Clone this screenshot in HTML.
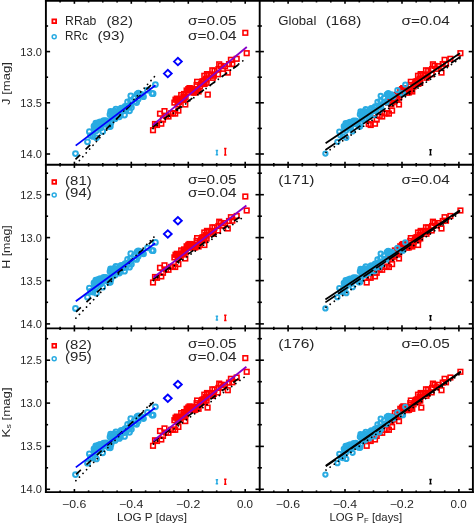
<!DOCTYPE html>
<html><head><meta charset="utf-8"><title>PL relations</title><style>html,body{margin:0;padding:0;background:#fff}</style></head><body>
<svg width="474" height="524" viewBox="0 0 474 524" style="display:block;font-family:'Liberation Sans',sans-serif">
<rect width="474" height="524" fill="#fff"/>
<g>
<rect x="150.7" y="127.9" width="4.6" height="4.6" fill="none" stroke="#ff0000" stroke-width="1.6"/>
<rect x="152.7" y="121.7" width="4.6" height="4.6" fill="none" stroke="#ff0000" stroke-width="1.6"/>
<rect x="154.7" y="122.7" width="4.6" height="4.6" fill="none" stroke="#ff0000" stroke-width="1.6"/>
<rect x="157.7" y="111.4" width="4.6" height="4.6" fill="none" stroke="#ff0000" stroke-width="1.6"/>
<rect x="159.0" y="121.4" width="4.6" height="4.6" fill="none" stroke="#ff0000" stroke-width="1.6"/>
<rect x="162.2" y="108.8" width="4.6" height="4.6" fill="none" stroke="#ff0000" stroke-width="1.6"/>
<rect x="160.7" y="117.3" width="4.6" height="4.6" fill="none" stroke="#ff0000" stroke-width="1.6"/>
<rect x="163.7" y="113.7" width="4.6" height="4.6" fill="none" stroke="#ff0000" stroke-width="1.6"/>
<rect x="166.2" y="114.2" width="4.6" height="4.6" fill="none" stroke="#ff0000" stroke-width="1.6"/>
<rect x="172.9" y="111.3" width="4.6" height="4.6" fill="none" stroke="#ff0000" stroke-width="1.6"/>
<rect x="176.1" y="108.3" width="4.6" height="4.6" fill="none" stroke="#ff0000" stroke-width="1.6"/>
<rect x="183.0" y="102.2" width="4.6" height="4.6" fill="none" stroke="#ff0000" stroke-width="1.6"/>
<rect x="168.7" y="111.0" width="4.6" height="4.6" fill="none" stroke="#ff0000" stroke-width="1.6"/>
<rect x="170.7" y="110.9" width="4.6" height="4.6" fill="none" stroke="#ff0000" stroke-width="1.6"/>
<rect x="210.0" y="68.0" width="4.6" height="4.6" fill="none" stroke="#ff0000" stroke-width="1.6"/>
<rect x="215.7" y="72.0" width="4.6" height="4.6" fill="none" stroke="#ff0000" stroke-width="1.6"/>
<rect x="218.5" y="63.6" width="4.6" height="4.6" fill="none" stroke="#ff0000" stroke-width="1.6"/>
<rect x="220.5" y="66.5" width="4.6" height="4.6" fill="none" stroke="#ff0000" stroke-width="1.6"/>
<rect x="222.7" y="63.9" width="4.6" height="4.6" fill="none" stroke="#ff0000" stroke-width="1.6"/>
<rect x="225.5" y="70.3" width="4.6" height="4.6" fill="none" stroke="#ff0000" stroke-width="1.6"/>
<rect x="226.7" y="61.8" width="4.6" height="4.6" fill="none" stroke="#ff0000" stroke-width="1.6"/>
<rect x="228.6" y="57.5" width="4.6" height="4.6" fill="none" stroke="#ff0000" stroke-width="1.6"/>
<rect x="230.0" y="61.7" width="4.6" height="4.6" fill="none" stroke="#ff0000" stroke-width="1.6"/>
<rect x="234.4" y="56.5" width="4.6" height="4.6" fill="none" stroke="#ff0000" stroke-width="1.6"/>
<rect x="244.4" y="50.9" width="4.6" height="4.6" fill="none" stroke="#ff0000" stroke-width="1.6"/>
<rect x="211.5" y="73.4" width="4.6" height="4.6" fill="none" stroke="#ff0000" stroke-width="1.6"/>
<rect x="187.2" y="85.8" width="4.6" height="4.6" fill="none" stroke="#ff0000" stroke-width="1.6"/>
<rect x="209.4" y="72.2" width="4.6" height="4.6" fill="none" stroke="#ff0000" stroke-width="1.6"/>
<rect x="181.3" y="95.6" width="4.6" height="4.6" fill="none" stroke="#ff0000" stroke-width="1.6"/>
<rect x="195.4" y="87.4" width="4.6" height="4.6" fill="none" stroke="#ff0000" stroke-width="1.6"/>
<rect x="175.4" y="102.1" width="4.6" height="4.6" fill="none" stroke="#ff0000" stroke-width="1.6"/>
<rect x="210.5" y="75.5" width="4.6" height="4.6" fill="none" stroke="#ff0000" stroke-width="1.6"/>
<rect x="187.2" y="87.9" width="4.6" height="4.6" fill="none" stroke="#ff0000" stroke-width="1.6"/>
<rect x="204.0" y="77.1" width="4.6" height="4.6" fill="none" stroke="#ff0000" stroke-width="1.6"/>
<rect x="191.4" y="90.4" width="4.6" height="4.6" fill="none" stroke="#ff0000" stroke-width="1.6"/>
<rect x="186.0" y="86.8" width="4.6" height="4.6" fill="none" stroke="#ff0000" stroke-width="1.6"/>
<rect x="184.3" y="88.2" width="4.6" height="4.6" fill="none" stroke="#ff0000" stroke-width="1.6"/>
<rect x="201.2" y="79.8" width="4.6" height="4.6" fill="none" stroke="#ff0000" stroke-width="1.6"/>
<rect x="181.1" y="94.6" width="4.6" height="4.6" fill="none" stroke="#ff0000" stroke-width="1.6"/>
<rect x="201.4" y="79.0" width="4.6" height="4.6" fill="none" stroke="#ff0000" stroke-width="1.6"/>
<rect x="208.3" y="73.2" width="4.6" height="4.6" fill="none" stroke="#ff0000" stroke-width="1.6"/>
<rect x="204.3" y="80.5" width="4.6" height="4.6" fill="none" stroke="#ff0000" stroke-width="1.6"/>
<rect x="212.2" y="68.5" width="4.6" height="4.6" fill="none" stroke="#ff0000" stroke-width="1.6"/>
<rect x="202.0" y="73.5" width="4.6" height="4.6" fill="none" stroke="#ff0000" stroke-width="1.6"/>
<rect x="174.5" y="96.3" width="4.6" height="4.6" fill="none" stroke="#ff0000" stroke-width="1.6"/>
<rect x="204.7" y="72.9" width="4.6" height="4.6" fill="none" stroke="#ff0000" stroke-width="1.6"/>
<rect x="189.5" y="87.6" width="4.6" height="4.6" fill="none" stroke="#ff0000" stroke-width="1.6"/>
<rect x="189.3" y="86.7" width="4.6" height="4.6" fill="none" stroke="#ff0000" stroke-width="1.6"/>
<rect x="193.0" y="90.1" width="4.6" height="4.6" fill="none" stroke="#ff0000" stroke-width="1.6"/>
<rect x="190.3" y="88.9" width="4.6" height="4.6" fill="none" stroke="#ff0000" stroke-width="1.6"/>
<rect x="203.7" y="76.4" width="4.6" height="4.6" fill="none" stroke="#ff0000" stroke-width="1.6"/>
<rect x="172.1" y="100.3" width="4.6" height="4.6" fill="none" stroke="#ff0000" stroke-width="1.6"/>
<rect x="204.7" y="71.8" width="4.6" height="4.6" fill="none" stroke="#ff0000" stroke-width="1.6"/>
<rect x="181.3" y="97.2" width="4.6" height="4.6" fill="none" stroke="#ff0000" stroke-width="1.6"/>
<rect x="200.8" y="79.3" width="4.6" height="4.6" fill="none" stroke="#ff0000" stroke-width="1.6"/>
<rect x="201.0" y="79.5" width="4.6" height="4.6" fill="none" stroke="#ff0000" stroke-width="1.6"/>
<rect x="173.2" y="97.4" width="4.6" height="4.6" fill="none" stroke="#ff0000" stroke-width="1.6"/>
<rect x="180.8" y="97.4" width="4.6" height="4.6" fill="none" stroke="#ff0000" stroke-width="1.6"/>
<rect x="181.8" y="91.7" width="4.6" height="4.6" fill="none" stroke="#ff0000" stroke-width="1.6"/>
<rect x="178.9" y="92.7" width="4.6" height="4.6" fill="none" stroke="#ff0000" stroke-width="1.6"/>
<rect x="188.1" y="86.1" width="4.6" height="4.6" fill="none" stroke="#ff0000" stroke-width="1.6"/>
<rect x="194.8" y="79.5" width="4.6" height="4.6" fill="none" stroke="#ff0000" stroke-width="1.6"/>
<rect x="194.3" y="82.6" width="4.6" height="4.6" fill="none" stroke="#ff0000" stroke-width="1.6"/>
<rect x="199.8" y="79.3" width="4.6" height="4.6" fill="none" stroke="#ff0000" stroke-width="1.6"/>
<rect x="177.4" y="98.3" width="4.6" height="4.6" fill="none" stroke="#ff0000" stroke-width="1.6"/>
<rect x="183.3" y="95.0" width="4.6" height="4.6" fill="none" stroke="#ff0000" stroke-width="1.6"/>
<rect x="200.2" y="81.5" width="4.6" height="4.6" fill="none" stroke="#ff0000" stroke-width="1.6"/>
<rect x="194.3" y="87.9" width="4.6" height="4.6" fill="none" stroke="#ff0000" stroke-width="1.6"/>
<rect x="198.9" y="81.9" width="4.6" height="4.6" fill="none" stroke="#ff0000" stroke-width="1.6"/>
<rect x="202.3" y="81.6" width="4.6" height="4.6" fill="none" stroke="#ff0000" stroke-width="1.6"/>
<rect x="185.5" y="89.9" width="4.6" height="4.6" fill="none" stroke="#ff0000" stroke-width="1.6"/>
<rect x="216.9" y="62.0" width="4.6" height="4.6" fill="none" stroke="#ff0000" stroke-width="1.6"/>
<rect x="196.3" y="89.2" width="4.6" height="4.6" fill="none" stroke="#ff0000" stroke-width="1.6"/>
<rect x="176.7" y="99.9" width="4.6" height="4.6" fill="none" stroke="#ff0000" stroke-width="1.6"/>
<rect x="216.1" y="66.9" width="4.6" height="4.6" fill="none" stroke="#ff0000" stroke-width="1.6"/>
<rect x="197.6" y="84.2" width="4.6" height="4.6" fill="none" stroke="#ff0000" stroke-width="1.6"/>
<rect x="177.0" y="97.6" width="4.6" height="4.6" fill="none" stroke="#ff0000" stroke-width="1.6"/>
<rect x="193.8" y="86.9" width="4.6" height="4.6" fill="none" stroke="#ff0000" stroke-width="1.6"/>
<rect x="189.2" y="87.8" width="4.6" height="4.6" fill="none" stroke="#ff0000" stroke-width="1.6"/>
<rect x="175.5" y="98.1" width="4.6" height="4.6" fill="none" stroke="#ff0000" stroke-width="1.6"/>
<rect x="243.0" y="30.5" width="4.6" height="4.6" fill="none" stroke="#ff0000" stroke-width="1.6"/>
<rect x="205.5" y="92.3" width="4.6" height="4.6" fill="none" stroke="#ff0000" stroke-width="1.6"/>
</g><g>
<circle cx="75.5" cy="153.6" r="2.4" fill="none" stroke="#29abe2" stroke-width="2.0"/>
<circle cx="87.5" cy="141.8" r="2.4" fill="none" stroke="#29abe2" stroke-width="2.0"/>
<circle cx="89.4" cy="131.7" r="2.4" fill="none" stroke="#29abe2" stroke-width="2.0"/>
<circle cx="90.5" cy="135.6" r="2.4" fill="none" stroke="#29abe2" stroke-width="2.0"/>
<circle cx="96.4" cy="137.8" r="2.4" fill="none" stroke="#29abe2" stroke-width="2.0"/>
<circle cx="102.7" cy="131.4" r="2.4" fill="none" stroke="#29abe2" stroke-width="2.0"/>
<circle cx="110.3" cy="126.5" r="2.4" fill="none" stroke="#29abe2" stroke-width="2.0"/>
<circle cx="93.0" cy="136.4" r="2.4" fill="none" stroke="#29abe2" stroke-width="2.0"/>
<circle cx="110.6" cy="111.4" r="2.4" fill="none" stroke="#29abe2" stroke-width="2.0"/>
<circle cx="124.5" cy="115.0" r="2.4" fill="none" stroke="#29abe2" stroke-width="2.0"/>
<circle cx="129.5" cy="110.8" r="2.4" fill="none" stroke="#29abe2" stroke-width="2.0"/>
<circle cx="130.8" cy="95.8" r="2.4" fill="none" stroke="#29abe2" stroke-width="2.0"/>
<circle cx="138.4" cy="93.2" r="2.4" fill="none" stroke="#29abe2" stroke-width="2.0"/>
<circle cx="143.5" cy="96.7" r="2.4" fill="none" stroke="#29abe2" stroke-width="2.0"/>
<circle cx="153.1" cy="93.7" r="2.4" fill="none" stroke="#29abe2" stroke-width="2.0"/>
<circle cx="155.4" cy="84.6" r="2.4" fill="none" stroke="#29abe2" stroke-width="2.0"/>
<circle cx="152.0" cy="93.4" r="2.4" fill="none" stroke="#29abe2" stroke-width="2.0"/>
<circle cx="147.5" cy="90.2" r="2.4" fill="none" stroke="#29abe2" stroke-width="2.0"/>
<circle cx="97.5" cy="125.9" r="2.4" fill="none" stroke="#29abe2" stroke-width="2.0"/>
<circle cx="94.4" cy="128.9" r="2.4" fill="none" stroke="#29abe2" stroke-width="2.0"/>
<circle cx="100.2" cy="121.8" r="2.4" fill="none" stroke="#29abe2" stroke-width="2.0"/>
<circle cx="99.8" cy="123.0" r="2.4" fill="none" stroke="#29abe2" stroke-width="2.0"/>
<circle cx="94.0" cy="126.2" r="2.4" fill="none" stroke="#29abe2" stroke-width="2.0"/>
<circle cx="94.6" cy="126.7" r="2.4" fill="none" stroke="#29abe2" stroke-width="2.0"/>
<circle cx="98.8" cy="123.7" r="2.4" fill="none" stroke="#29abe2" stroke-width="2.0"/>
<circle cx="96.3" cy="124.3" r="2.4" fill="none" stroke="#29abe2" stroke-width="2.0"/>
<circle cx="101.3" cy="123.8" r="2.4" fill="none" stroke="#29abe2" stroke-width="2.0"/>
<circle cx="98.5" cy="122.7" r="2.4" fill="none" stroke="#29abe2" stroke-width="2.0"/>
<circle cx="105.7" cy="121.7" r="2.4" fill="none" stroke="#29abe2" stroke-width="2.0"/>
<circle cx="97.1" cy="125.7" r="2.4" fill="none" stroke="#29abe2" stroke-width="2.0"/>
<circle cx="95.3" cy="127.1" r="2.4" fill="none" stroke="#29abe2" stroke-width="2.0"/>
<circle cx="103.7" cy="120.7" r="2.4" fill="none" stroke="#29abe2" stroke-width="2.0"/>
<circle cx="95.8" cy="123.1" r="2.4" fill="none" stroke="#29abe2" stroke-width="2.0"/>
<circle cx="98.2" cy="127.9" r="2.4" fill="none" stroke="#29abe2" stroke-width="2.0"/>
<circle cx="100.3" cy="127.9" r="2.4" fill="none" stroke="#29abe2" stroke-width="2.0"/>
<circle cx="96.1" cy="130.8" r="2.4" fill="none" stroke="#29abe2" stroke-width="2.0"/>
<circle cx="102.0" cy="124.9" r="2.4" fill="none" stroke="#29abe2" stroke-width="2.0"/>
<circle cx="100.8" cy="127.6" r="2.4" fill="none" stroke="#29abe2" stroke-width="2.0"/>
<circle cx="122.7" cy="111.0" r="2.4" fill="none" stroke="#29abe2" stroke-width="2.0"/>
<circle cx="114.5" cy="111.2" r="2.4" fill="none" stroke="#29abe2" stroke-width="2.0"/>
<circle cx="125.5" cy="107.3" r="2.4" fill="none" stroke="#29abe2" stroke-width="2.0"/>
<circle cx="121.3" cy="108.2" r="2.4" fill="none" stroke="#29abe2" stroke-width="2.0"/>
<circle cx="110.9" cy="123.1" r="2.4" fill="none" stroke="#29abe2" stroke-width="2.0"/>
<circle cx="134.8" cy="101.7" r="2.4" fill="none" stroke="#29abe2" stroke-width="2.0"/>
<circle cx="139.1" cy="95.9" r="2.4" fill="none" stroke="#29abe2" stroke-width="2.0"/>
<circle cx="127.6" cy="102.0" r="2.4" fill="none" stroke="#29abe2" stroke-width="2.0"/>
<circle cx="137.8" cy="93.8" r="2.4" fill="none" stroke="#29abe2" stroke-width="2.0"/>
<circle cx="107.4" cy="122.0" r="2.4" fill="none" stroke="#29abe2" stroke-width="2.0"/>
<circle cx="130.2" cy="105.1" r="2.4" fill="none" stroke="#29abe2" stroke-width="2.0"/>
<circle cx="120.0" cy="109.4" r="2.4" fill="none" stroke="#29abe2" stroke-width="2.0"/>
<circle cx="105.9" cy="123.2" r="2.4" fill="none" stroke="#29abe2" stroke-width="2.0"/>
<circle cx="107.3" cy="122.7" r="2.4" fill="none" stroke="#29abe2" stroke-width="2.0"/>
<circle cx="110.0" cy="114.4" r="2.4" fill="none" stroke="#29abe2" stroke-width="2.0"/>
<circle cx="108.1" cy="124.7" r="2.4" fill="none" stroke="#29abe2" stroke-width="2.0"/>
<circle cx="126.4" cy="109.5" r="2.4" fill="none" stroke="#29abe2" stroke-width="2.0"/>
<circle cx="115.9" cy="109.2" r="2.4" fill="none" stroke="#29abe2" stroke-width="2.0"/>
<circle cx="119.0" cy="114.2" r="2.4" fill="none" stroke="#29abe2" stroke-width="2.0"/>
<circle cx="111.9" cy="117.4" r="2.4" fill="none" stroke="#29abe2" stroke-width="2.0"/>
<circle cx="114.1" cy="114.1" r="2.4" fill="none" stroke="#29abe2" stroke-width="2.0"/>
<circle cx="105.2" cy="121.7" r="2.4" fill="none" stroke="#29abe2" stroke-width="2.0"/>
<circle cx="119.4" cy="116.8" r="2.4" fill="none" stroke="#29abe2" stroke-width="2.0"/>
<circle cx="125.1" cy="106.5" r="2.4" fill="none" stroke="#29abe2" stroke-width="2.0"/>
<circle cx="131.4" cy="107.5" r="2.4" fill="none" stroke="#29abe2" stroke-width="2.0"/>
<circle cx="139.1" cy="94.1" r="2.4" fill="none" stroke="#29abe2" stroke-width="2.0"/>
<circle cx="120.3" cy="115.0" r="2.4" fill="none" stroke="#29abe2" stroke-width="2.0"/>
<circle cx="107.4" cy="123.9" r="2.4" fill="none" stroke="#29abe2" stroke-width="2.0"/>
<circle cx="113.1" cy="116.4" r="2.4" fill="none" stroke="#29abe2" stroke-width="2.0"/>
<circle cx="105.0" cy="123.9" r="2.4" fill="none" stroke="#29abe2" stroke-width="2.0"/>
<circle cx="109.0" cy="126.4" r="2.4" fill="none" stroke="#29abe2" stroke-width="2.0"/>
<circle cx="128.9" cy="106.0" r="2.4" fill="none" stroke="#29abe2" stroke-width="2.0"/>
<circle cx="114.8" cy="114.6" r="2.4" fill="none" stroke="#29abe2" stroke-width="2.0"/>
<circle cx="138.1" cy="99.3" r="2.4" fill="none" stroke="#29abe2" stroke-width="2.0"/>
<circle cx="123.2" cy="110.6" r="2.4" fill="none" stroke="#29abe2" stroke-width="2.0"/>
<circle cx="118.4" cy="113.7" r="2.4" fill="none" stroke="#29abe2" stroke-width="2.0"/>
<circle cx="105.9" cy="120.7" r="2.4" fill="none" stroke="#29abe2" stroke-width="2.0"/>
<circle cx="126.2" cy="106.8" r="2.4" fill="none" stroke="#29abe2" stroke-width="2.0"/>
<circle cx="125.6" cy="110.7" r="2.4" fill="none" stroke="#29abe2" stroke-width="2.0"/>
<circle cx="115.2" cy="111.7" r="2.4" fill="none" stroke="#29abe2" stroke-width="2.0"/>
<circle cx="111.5" cy="112.8" r="2.4" fill="none" stroke="#29abe2" stroke-width="2.0"/>
<circle cx="117.9" cy="112.3" r="2.4" fill="none" stroke="#29abe2" stroke-width="2.0"/>
<circle cx="136.6" cy="102.6" r="2.4" fill="none" stroke="#29abe2" stroke-width="2.0"/>
<circle cx="136.9" cy="94.4" r="2.4" fill="none" stroke="#29abe2" stroke-width="2.0"/>
<circle cx="113.8" cy="115.9" r="2.4" fill="none" stroke="#29abe2" stroke-width="2.0"/>
<circle cx="106.1" cy="122.8" r="2.4" fill="none" stroke="#29abe2" stroke-width="2.0"/>
<circle cx="115.1" cy="118.7" r="2.4" fill="none" stroke="#29abe2" stroke-width="2.0"/>
<circle cx="141.5" cy="94.5" r="2.4" fill="none" stroke="#29abe2" stroke-width="2.0"/>
<circle cx="142.2" cy="95.3" r="2.4" fill="none" stroke="#29abe2" stroke-width="2.0"/>
<circle cx="112.7" cy="119.5" r="2.4" fill="none" stroke="#29abe2" stroke-width="2.0"/>
<circle cx="129.3" cy="106.6" r="2.4" fill="none" stroke="#29abe2" stroke-width="2.0"/>
<circle cx="130.5" cy="100.8" r="2.4" fill="none" stroke="#29abe2" stroke-width="2.0"/>
<circle cx="108.3" cy="125.2" r="2.4" fill="none" stroke="#29abe2" stroke-width="2.0"/>
<circle cx="134.3" cy="98.0" r="2.4" fill="none" stroke="#29abe2" stroke-width="2.0"/>
<circle cx="112.0" cy="115.0" r="2.4" fill="none" stroke="#29abe2" stroke-width="2.0"/>
</g>
<line x1="75.5" y1="159.4" x2="153.0" y2="83.0" stroke="#000" stroke-width="1.7" stroke-dasharray="6.5 7.7" stroke-linecap="butt"/>
<line x1="76.0" y1="164.3" x2="154.6" y2="76.5" stroke="#000" stroke-width="1.8" stroke-dasharray="0.01 5.1" stroke-linecap="round"/>
<line x1="75.7" y1="145.6" x2="155.5" y2="85.3" stroke="#0000ff" stroke-width="1.8" stroke-linecap="butt"/>
<line x1="152.7" y1="127.0" x2="244.3" y2="60.4" stroke="#000" stroke-width="1.7" stroke-dasharray="6.5 7.7" stroke-linecap="butt"/>
<line x1="153.0" y1="128.5" x2="246.6" y2="58.0" stroke="#000" stroke-width="1.8" stroke-dasharray="0.01 5.1" stroke-linecap="round"/>
<line x1="152.7" y1="125.1" x2="246.8" y2="47.0" stroke="#8a00c8" stroke-width="1.8" stroke-linecap="butt"/>
<path d="M163.9 73.6L167.8 69.9L171.7 73.6L167.8 77.3Z" fill="none" stroke="#0000ff" stroke-width="1.9"/>
<path d="M174.0 61.6L177.9 57.9L181.8 61.6L177.9 65.3Z" fill="none" stroke="#0000ff" stroke-width="1.9"/>
<path d="M216.9 150.6V154.8M215.7 150.6h2.4M215.7 154.8h2.4" stroke="#29abe2" stroke-width="1.5" fill="none"/>
<path d="M225.3 148.6V155.0M224.1 148.6h2.4M224.1 155.0h2.4" stroke="#ff0000" stroke-width="1.5" fill="none"/>
<g>
<rect x="366.4" y="121.7" width="4.6" height="4.6" fill="none" stroke="#ff0000" stroke-width="1.6"/>
<rect x="368.4" y="122.7" width="4.6" height="4.6" fill="none" stroke="#ff0000" stroke-width="1.6"/>
<rect x="371.4" y="111.4" width="4.6" height="4.6" fill="none" stroke="#ff0000" stroke-width="1.6"/>
<rect x="372.7" y="121.4" width="4.6" height="4.6" fill="none" stroke="#ff0000" stroke-width="1.6"/>
<rect x="375.9" y="108.8" width="4.6" height="4.6" fill="none" stroke="#ff0000" stroke-width="1.6"/>
<rect x="374.4" y="117.3" width="4.6" height="4.6" fill="none" stroke="#ff0000" stroke-width="1.6"/>
<rect x="377.4" y="113.7" width="4.6" height="4.6" fill="none" stroke="#ff0000" stroke-width="1.6"/>
<rect x="379.9" y="114.2" width="4.6" height="4.6" fill="none" stroke="#ff0000" stroke-width="1.6"/>
<rect x="386.6" y="111.3" width="4.6" height="4.6" fill="none" stroke="#ff0000" stroke-width="1.6"/>
<rect x="389.8" y="108.3" width="4.6" height="4.6" fill="none" stroke="#ff0000" stroke-width="1.6"/>
<rect x="396.7" y="102.2" width="4.6" height="4.6" fill="none" stroke="#ff0000" stroke-width="1.6"/>
<rect x="382.4" y="111.0" width="4.6" height="4.6" fill="none" stroke="#ff0000" stroke-width="1.6"/>
<rect x="384.4" y="110.9" width="4.6" height="4.6" fill="none" stroke="#ff0000" stroke-width="1.6"/>
<rect x="423.7" y="68.0" width="4.6" height="4.6" fill="none" stroke="#ff0000" stroke-width="1.6"/>
<rect x="429.4" y="72.0" width="4.6" height="4.6" fill="none" stroke="#ff0000" stroke-width="1.6"/>
<rect x="432.2" y="63.6" width="4.6" height="4.6" fill="none" stroke="#ff0000" stroke-width="1.6"/>
<rect x="434.2" y="66.5" width="4.6" height="4.6" fill="none" stroke="#ff0000" stroke-width="1.6"/>
<rect x="436.4" y="63.9" width="4.6" height="4.6" fill="none" stroke="#ff0000" stroke-width="1.6"/>
<rect x="439.2" y="70.3" width="4.6" height="4.6" fill="none" stroke="#ff0000" stroke-width="1.6"/>
<rect x="440.4" y="61.8" width="4.6" height="4.6" fill="none" stroke="#ff0000" stroke-width="1.6"/>
<rect x="442.3" y="57.5" width="4.6" height="4.6" fill="none" stroke="#ff0000" stroke-width="1.6"/>
<rect x="443.7" y="61.7" width="4.6" height="4.6" fill="none" stroke="#ff0000" stroke-width="1.6"/>
<rect x="448.1" y="56.5" width="4.6" height="4.6" fill="none" stroke="#ff0000" stroke-width="1.6"/>
<rect x="458.1" y="50.9" width="4.6" height="4.6" fill="none" stroke="#ff0000" stroke-width="1.6"/>
<rect x="425.2" y="73.4" width="4.6" height="4.6" fill="none" stroke="#ff0000" stroke-width="1.6"/>
<rect x="400.9" y="85.8" width="4.6" height="4.6" fill="none" stroke="#ff0000" stroke-width="1.6"/>
<rect x="423.1" y="72.2" width="4.6" height="4.6" fill="none" stroke="#ff0000" stroke-width="1.6"/>
<rect x="395.0" y="95.6" width="4.6" height="4.6" fill="none" stroke="#ff0000" stroke-width="1.6"/>
<rect x="409.1" y="87.4" width="4.6" height="4.6" fill="none" stroke="#ff0000" stroke-width="1.6"/>
<rect x="389.1" y="102.1" width="4.6" height="4.6" fill="none" stroke="#ff0000" stroke-width="1.6"/>
<rect x="424.2" y="75.5" width="4.6" height="4.6" fill="none" stroke="#ff0000" stroke-width="1.6"/>
<rect x="400.9" y="87.9" width="4.6" height="4.6" fill="none" stroke="#ff0000" stroke-width="1.6"/>
<rect x="417.7" y="77.1" width="4.6" height="4.6" fill="none" stroke="#ff0000" stroke-width="1.6"/>
<rect x="405.1" y="90.4" width="4.6" height="4.6" fill="none" stroke="#ff0000" stroke-width="1.6"/>
<rect x="399.7" y="86.8" width="4.6" height="4.6" fill="none" stroke="#ff0000" stroke-width="1.6"/>
<rect x="398.0" y="88.2" width="4.6" height="4.6" fill="none" stroke="#ff0000" stroke-width="1.6"/>
<rect x="414.9" y="79.8" width="4.6" height="4.6" fill="none" stroke="#ff0000" stroke-width="1.6"/>
<rect x="394.8" y="94.6" width="4.6" height="4.6" fill="none" stroke="#ff0000" stroke-width="1.6"/>
<rect x="415.1" y="79.0" width="4.6" height="4.6" fill="none" stroke="#ff0000" stroke-width="1.6"/>
<rect x="422.0" y="73.2" width="4.6" height="4.6" fill="none" stroke="#ff0000" stroke-width="1.6"/>
<rect x="418.0" y="80.5" width="4.6" height="4.6" fill="none" stroke="#ff0000" stroke-width="1.6"/>
<rect x="425.9" y="68.5" width="4.6" height="4.6" fill="none" stroke="#ff0000" stroke-width="1.6"/>
<rect x="415.7" y="73.5" width="4.6" height="4.6" fill="none" stroke="#ff0000" stroke-width="1.6"/>
<rect x="388.2" y="96.3" width="4.6" height="4.6" fill="none" stroke="#ff0000" stroke-width="1.6"/>
<rect x="418.4" y="72.9" width="4.6" height="4.6" fill="none" stroke="#ff0000" stroke-width="1.6"/>
<rect x="403.2" y="87.6" width="4.6" height="4.6" fill="none" stroke="#ff0000" stroke-width="1.6"/>
<rect x="403.0" y="86.7" width="4.6" height="4.6" fill="none" stroke="#ff0000" stroke-width="1.6"/>
<rect x="406.7" y="90.1" width="4.6" height="4.6" fill="none" stroke="#ff0000" stroke-width="1.6"/>
<rect x="404.0" y="88.9" width="4.6" height="4.6" fill="none" stroke="#ff0000" stroke-width="1.6"/>
<rect x="417.4" y="76.4" width="4.6" height="4.6" fill="none" stroke="#ff0000" stroke-width="1.6"/>
<rect x="385.8" y="100.3" width="4.6" height="4.6" fill="none" stroke="#ff0000" stroke-width="1.6"/>
<rect x="418.4" y="71.8" width="4.6" height="4.6" fill="none" stroke="#ff0000" stroke-width="1.6"/>
<rect x="395.0" y="97.2" width="4.6" height="4.6" fill="none" stroke="#ff0000" stroke-width="1.6"/>
<rect x="414.5" y="79.3" width="4.6" height="4.6" fill="none" stroke="#ff0000" stroke-width="1.6"/>
<rect x="414.7" y="79.5" width="4.6" height="4.6" fill="none" stroke="#ff0000" stroke-width="1.6"/>
<rect x="386.9" y="97.4" width="4.6" height="4.6" fill="none" stroke="#ff0000" stroke-width="1.6"/>
<rect x="394.5" y="97.4" width="4.6" height="4.6" fill="none" stroke="#ff0000" stroke-width="1.6"/>
<rect x="395.5" y="91.7" width="4.6" height="4.6" fill="none" stroke="#ff0000" stroke-width="1.6"/>
<rect x="392.6" y="92.7" width="4.6" height="4.6" fill="none" stroke="#ff0000" stroke-width="1.6"/>
<rect x="401.8" y="86.1" width="4.6" height="4.6" fill="none" stroke="#ff0000" stroke-width="1.6"/>
<rect x="408.5" y="79.5" width="4.6" height="4.6" fill="none" stroke="#ff0000" stroke-width="1.6"/>
<rect x="408.0" y="82.6" width="4.6" height="4.6" fill="none" stroke="#ff0000" stroke-width="1.6"/>
<rect x="413.5" y="79.3" width="4.6" height="4.6" fill="none" stroke="#ff0000" stroke-width="1.6"/>
<rect x="391.1" y="98.3" width="4.6" height="4.6" fill="none" stroke="#ff0000" stroke-width="1.6"/>
<rect x="397.0" y="95.0" width="4.6" height="4.6" fill="none" stroke="#ff0000" stroke-width="1.6"/>
<rect x="413.9" y="81.5" width="4.6" height="4.6" fill="none" stroke="#ff0000" stroke-width="1.6"/>
<rect x="408.0" y="87.9" width="4.6" height="4.6" fill="none" stroke="#ff0000" stroke-width="1.6"/>
<rect x="412.6" y="81.9" width="4.6" height="4.6" fill="none" stroke="#ff0000" stroke-width="1.6"/>
<rect x="416.0" y="81.6" width="4.6" height="4.6" fill="none" stroke="#ff0000" stroke-width="1.6"/>
<rect x="399.2" y="89.9" width="4.6" height="4.6" fill="none" stroke="#ff0000" stroke-width="1.6"/>
<rect x="430.6" y="62.0" width="4.6" height="4.6" fill="none" stroke="#ff0000" stroke-width="1.6"/>
<rect x="410.0" y="89.2" width="4.6" height="4.6" fill="none" stroke="#ff0000" stroke-width="1.6"/>
<rect x="390.4" y="99.9" width="4.6" height="4.6" fill="none" stroke="#ff0000" stroke-width="1.6"/>
<rect x="429.8" y="66.9" width="4.6" height="4.6" fill="none" stroke="#ff0000" stroke-width="1.6"/>
<rect x="411.3" y="84.2" width="4.6" height="4.6" fill="none" stroke="#ff0000" stroke-width="1.6"/>
<rect x="390.7" y="97.6" width="4.6" height="4.6" fill="none" stroke="#ff0000" stroke-width="1.6"/>
<rect x="407.5" y="86.9" width="4.6" height="4.6" fill="none" stroke="#ff0000" stroke-width="1.6"/>
<rect x="402.9" y="87.8" width="4.6" height="4.6" fill="none" stroke="#ff0000" stroke-width="1.6"/>
<rect x="389.2" y="98.1" width="4.6" height="4.6" fill="none" stroke="#ff0000" stroke-width="1.6"/>
</g><g>
<circle cx="325.4" cy="153.6" r="2.15" fill="none" stroke="#29abe2" stroke-width="2.0"/>
<circle cx="337.4" cy="141.8" r="2.15" fill="none" stroke="#29abe2" stroke-width="2.0"/>
<circle cx="339.3" cy="131.7" r="2.15" fill="none" stroke="#29abe2" stroke-width="2.0"/>
<circle cx="340.4" cy="135.6" r="2.15" fill="none" stroke="#29abe2" stroke-width="2.0"/>
<circle cx="346.3" cy="137.8" r="2.15" fill="none" stroke="#29abe2" stroke-width="2.0"/>
<circle cx="352.6" cy="131.4" r="2.15" fill="none" stroke="#29abe2" stroke-width="2.0"/>
<circle cx="360.2" cy="126.5" r="2.15" fill="none" stroke="#29abe2" stroke-width="2.0"/>
<circle cx="342.9" cy="136.4" r="2.15" fill="none" stroke="#29abe2" stroke-width="2.0"/>
<circle cx="360.5" cy="111.4" r="2.15" fill="none" stroke="#29abe2" stroke-width="2.0"/>
<circle cx="374.4" cy="115.0" r="2.15" fill="none" stroke="#29abe2" stroke-width="2.0"/>
<circle cx="379.4" cy="110.8" r="2.15" fill="none" stroke="#29abe2" stroke-width="2.0"/>
<circle cx="380.7" cy="95.8" r="2.15" fill="none" stroke="#29abe2" stroke-width="2.0"/>
<circle cx="388.3" cy="93.2" r="2.15" fill="none" stroke="#29abe2" stroke-width="2.0"/>
<circle cx="393.4" cy="96.7" r="2.15" fill="none" stroke="#29abe2" stroke-width="2.0"/>
<circle cx="403.0" cy="93.7" r="2.15" fill="none" stroke="#29abe2" stroke-width="2.0"/>
<circle cx="405.3" cy="84.6" r="2.15" fill="none" stroke="#29abe2" stroke-width="2.0"/>
<circle cx="401.9" cy="93.4" r="2.15" fill="none" stroke="#29abe2" stroke-width="2.0"/>
<circle cx="397.4" cy="90.2" r="2.15" fill="none" stroke="#29abe2" stroke-width="2.0"/>
<circle cx="347.4" cy="125.9" r="2.15" fill="none" stroke="#29abe2" stroke-width="2.0"/>
<circle cx="344.3" cy="128.9" r="2.15" fill="none" stroke="#29abe2" stroke-width="2.0"/>
<circle cx="350.1" cy="121.8" r="2.15" fill="none" stroke="#29abe2" stroke-width="2.0"/>
<circle cx="349.7" cy="123.0" r="2.15" fill="none" stroke="#29abe2" stroke-width="2.0"/>
<circle cx="343.8" cy="126.2" r="2.15" fill="none" stroke="#29abe2" stroke-width="2.0"/>
<circle cx="344.5" cy="126.7" r="2.15" fill="none" stroke="#29abe2" stroke-width="2.0"/>
<circle cx="348.7" cy="123.7" r="2.15" fill="none" stroke="#29abe2" stroke-width="2.0"/>
<circle cx="346.1" cy="124.3" r="2.15" fill="none" stroke="#29abe2" stroke-width="2.0"/>
<circle cx="351.2" cy="123.8" r="2.15" fill="none" stroke="#29abe2" stroke-width="2.0"/>
<circle cx="348.3" cy="122.7" r="2.15" fill="none" stroke="#29abe2" stroke-width="2.0"/>
<circle cx="355.6" cy="121.7" r="2.15" fill="none" stroke="#29abe2" stroke-width="2.0"/>
<circle cx="347.0" cy="125.7" r="2.15" fill="none" stroke="#29abe2" stroke-width="2.0"/>
<circle cx="345.2" cy="127.1" r="2.15" fill="none" stroke="#29abe2" stroke-width="2.0"/>
<circle cx="353.6" cy="120.7" r="2.15" fill="none" stroke="#29abe2" stroke-width="2.0"/>
<circle cx="345.6" cy="123.1" r="2.15" fill="none" stroke="#29abe2" stroke-width="2.0"/>
<circle cx="348.0" cy="127.9" r="2.15" fill="none" stroke="#29abe2" stroke-width="2.0"/>
<circle cx="350.2" cy="127.9" r="2.15" fill="none" stroke="#29abe2" stroke-width="2.0"/>
<circle cx="345.9" cy="130.8" r="2.15" fill="none" stroke="#29abe2" stroke-width="2.0"/>
<circle cx="351.9" cy="124.9" r="2.15" fill="none" stroke="#29abe2" stroke-width="2.0"/>
<circle cx="350.7" cy="127.6" r="2.15" fill="none" stroke="#29abe2" stroke-width="2.0"/>
<circle cx="372.5" cy="111.0" r="2.15" fill="none" stroke="#29abe2" stroke-width="2.0"/>
<circle cx="364.4" cy="111.2" r="2.15" fill="none" stroke="#29abe2" stroke-width="2.0"/>
<circle cx="375.3" cy="107.3" r="2.15" fill="none" stroke="#29abe2" stroke-width="2.0"/>
<circle cx="371.2" cy="108.2" r="2.15" fill="none" stroke="#29abe2" stroke-width="2.0"/>
<circle cx="360.8" cy="123.1" r="2.15" fill="none" stroke="#29abe2" stroke-width="2.0"/>
<circle cx="384.7" cy="101.7" r="2.15" fill="none" stroke="#29abe2" stroke-width="2.0"/>
<circle cx="389.0" cy="95.9" r="2.15" fill="none" stroke="#29abe2" stroke-width="2.0"/>
<circle cx="377.5" cy="102.0" r="2.15" fill="none" stroke="#29abe2" stroke-width="2.0"/>
<circle cx="387.6" cy="93.8" r="2.15" fill="none" stroke="#29abe2" stroke-width="2.0"/>
<circle cx="357.2" cy="122.0" r="2.15" fill="none" stroke="#29abe2" stroke-width="2.0"/>
<circle cx="380.1" cy="105.1" r="2.15" fill="none" stroke="#29abe2" stroke-width="2.0"/>
<circle cx="369.9" cy="109.4" r="2.15" fill="none" stroke="#29abe2" stroke-width="2.0"/>
<circle cx="355.7" cy="123.2" r="2.15" fill="none" stroke="#29abe2" stroke-width="2.0"/>
<circle cx="357.2" cy="122.7" r="2.15" fill="none" stroke="#29abe2" stroke-width="2.0"/>
<circle cx="359.9" cy="114.4" r="2.15" fill="none" stroke="#29abe2" stroke-width="2.0"/>
<circle cx="358.0" cy="124.7" r="2.15" fill="none" stroke="#29abe2" stroke-width="2.0"/>
<circle cx="376.3" cy="109.5" r="2.15" fill="none" stroke="#29abe2" stroke-width="2.0"/>
<circle cx="365.7" cy="109.2" r="2.15" fill="none" stroke="#29abe2" stroke-width="2.0"/>
<circle cx="368.8" cy="114.2" r="2.15" fill="none" stroke="#29abe2" stroke-width="2.0"/>
<circle cx="361.7" cy="117.4" r="2.15" fill="none" stroke="#29abe2" stroke-width="2.0"/>
<circle cx="364.0" cy="114.1" r="2.15" fill="none" stroke="#29abe2" stroke-width="2.0"/>
<circle cx="355.0" cy="121.7" r="2.15" fill="none" stroke="#29abe2" stroke-width="2.0"/>
<circle cx="369.3" cy="116.8" r="2.15" fill="none" stroke="#29abe2" stroke-width="2.0"/>
<circle cx="375.0" cy="106.5" r="2.15" fill="none" stroke="#29abe2" stroke-width="2.0"/>
<circle cx="381.2" cy="107.5" r="2.15" fill="none" stroke="#29abe2" stroke-width="2.0"/>
<circle cx="389.0" cy="94.1" r="2.15" fill="none" stroke="#29abe2" stroke-width="2.0"/>
<circle cx="370.2" cy="115.0" r="2.15" fill="none" stroke="#29abe2" stroke-width="2.0"/>
<circle cx="357.3" cy="123.9" r="2.15" fill="none" stroke="#29abe2" stroke-width="2.0"/>
<circle cx="363.0" cy="116.4" r="2.15" fill="none" stroke="#29abe2" stroke-width="2.0"/>
<circle cx="354.9" cy="123.9" r="2.15" fill="none" stroke="#29abe2" stroke-width="2.0"/>
<circle cx="358.8" cy="126.4" r="2.15" fill="none" stroke="#29abe2" stroke-width="2.0"/>
<circle cx="378.8" cy="106.0" r="2.15" fill="none" stroke="#29abe2" stroke-width="2.0"/>
<circle cx="364.7" cy="114.6" r="2.15" fill="none" stroke="#29abe2" stroke-width="2.0"/>
<circle cx="388.0" cy="99.3" r="2.15" fill="none" stroke="#29abe2" stroke-width="2.0"/>
<circle cx="373.0" cy="110.6" r="2.15" fill="none" stroke="#29abe2" stroke-width="2.0"/>
<circle cx="368.2" cy="113.7" r="2.15" fill="none" stroke="#29abe2" stroke-width="2.0"/>
<circle cx="355.8" cy="120.7" r="2.15" fill="none" stroke="#29abe2" stroke-width="2.0"/>
<circle cx="376.0" cy="106.8" r="2.15" fill="none" stroke="#29abe2" stroke-width="2.0"/>
<circle cx="375.5" cy="110.7" r="2.15" fill="none" stroke="#29abe2" stroke-width="2.0"/>
<circle cx="365.0" cy="111.7" r="2.15" fill="none" stroke="#29abe2" stroke-width="2.0"/>
<circle cx="361.4" cy="112.8" r="2.15" fill="none" stroke="#29abe2" stroke-width="2.0"/>
<circle cx="367.7" cy="112.3" r="2.15" fill="none" stroke="#29abe2" stroke-width="2.0"/>
<circle cx="386.5" cy="102.6" r="2.15" fill="none" stroke="#29abe2" stroke-width="2.0"/>
<circle cx="386.8" cy="94.4" r="2.15" fill="none" stroke="#29abe2" stroke-width="2.0"/>
<circle cx="363.7" cy="115.9" r="2.15" fill="none" stroke="#29abe2" stroke-width="2.0"/>
<circle cx="355.9" cy="122.8" r="2.15" fill="none" stroke="#29abe2" stroke-width="2.0"/>
<circle cx="365.0" cy="118.7" r="2.15" fill="none" stroke="#29abe2" stroke-width="2.0"/>
<circle cx="391.4" cy="94.5" r="2.15" fill="none" stroke="#29abe2" stroke-width="2.0"/>
<circle cx="392.1" cy="95.3" r="2.15" fill="none" stroke="#29abe2" stroke-width="2.0"/>
<circle cx="362.5" cy="119.5" r="2.15" fill="none" stroke="#29abe2" stroke-width="2.0"/>
<circle cx="379.2" cy="106.6" r="2.15" fill="none" stroke="#29abe2" stroke-width="2.0"/>
<circle cx="380.3" cy="100.8" r="2.15" fill="none" stroke="#29abe2" stroke-width="2.0"/>
<circle cx="358.2" cy="125.2" r="2.15" fill="none" stroke="#29abe2" stroke-width="2.0"/>
<circle cx="384.1" cy="98.0" r="2.15" fill="none" stroke="#29abe2" stroke-width="2.0"/>
<circle cx="361.8" cy="115.0" r="2.15" fill="none" stroke="#29abe2" stroke-width="2.0"/>
</g>
<line x1="326.0" y1="152.6" x2="460.7" y2="58.0" stroke="#000" stroke-width="1.8" stroke-dasharray="0.01 5.1" stroke-linecap="round"/>
<line x1="325.4" y1="150.0" x2="460.7" y2="56.5" stroke="#000" stroke-width="1.7" stroke-dasharray="12 3.3" stroke-linecap="butt"/>
<line x1="325.6" y1="143.2" x2="460.0" y2="53.3" stroke="#000" stroke-width="1.8" stroke-linecap="butt"/>
<path d="M430.5 149.7V154.9M429.3 149.7h2.4M429.3 154.9h2.4" stroke="#000" stroke-width="1.4" fill="none"/>
<g>
<rect x="150.7" y="280.2" width="4.6" height="4.6" fill="none" stroke="#ff0000" stroke-width="1.6"/>
<rect x="152.7" y="274.7" width="4.6" height="4.6" fill="none" stroke="#ff0000" stroke-width="1.6"/>
<rect x="154.7" y="275.5" width="4.6" height="4.6" fill="none" stroke="#ff0000" stroke-width="1.6"/>
<rect x="157.7" y="265.5" width="4.6" height="4.6" fill="none" stroke="#ff0000" stroke-width="1.6"/>
<rect x="159.0" y="274.1" width="4.6" height="4.6" fill="none" stroke="#ff0000" stroke-width="1.6"/>
<rect x="162.2" y="263.0" width="4.6" height="4.6" fill="none" stroke="#ff0000" stroke-width="1.6"/>
<rect x="160.7" y="270.5" width="4.6" height="4.6" fill="none" stroke="#ff0000" stroke-width="1.6"/>
<rect x="163.7" y="267.2" width="4.6" height="4.6" fill="none" stroke="#ff0000" stroke-width="1.6"/>
<rect x="166.2" y="267.5" width="4.6" height="4.6" fill="none" stroke="#ff0000" stroke-width="1.6"/>
<rect x="172.9" y="264.7" width="4.6" height="4.6" fill="none" stroke="#ff0000" stroke-width="1.6"/>
<rect x="176.1" y="261.8" width="4.6" height="4.6" fill="none" stroke="#ff0000" stroke-width="1.6"/>
<rect x="183.0" y="256.2" width="4.6" height="4.6" fill="none" stroke="#ff0000" stroke-width="1.6"/>
<rect x="168.7" y="264.6" width="4.6" height="4.6" fill="none" stroke="#ff0000" stroke-width="1.6"/>
<rect x="170.7" y="264.4" width="4.6" height="4.6" fill="none" stroke="#ff0000" stroke-width="1.6"/>
<rect x="210.0" y="225.0" width="4.6" height="4.6" fill="none" stroke="#ff0000" stroke-width="1.6"/>
<rect x="215.7" y="228.2" width="4.6" height="4.6" fill="none" stroke="#ff0000" stroke-width="1.6"/>
<rect x="218.5" y="220.7" width="4.6" height="4.6" fill="none" stroke="#ff0000" stroke-width="1.6"/>
<rect x="220.5" y="223.1" width="4.6" height="4.6" fill="none" stroke="#ff0000" stroke-width="1.6"/>
<rect x="222.7" y="220.8" width="4.6" height="4.6" fill="none" stroke="#ff0000" stroke-width="1.6"/>
<rect x="225.5" y="226.2" width="4.6" height="4.6" fill="none" stroke="#ff0000" stroke-width="1.6"/>
<rect x="226.7" y="218.7" width="4.6" height="4.6" fill="none" stroke="#ff0000" stroke-width="1.6"/>
<rect x="228.6" y="214.9" width="4.6" height="4.6" fill="none" stroke="#ff0000" stroke-width="1.6"/>
<rect x="230.0" y="218.4" width="4.6" height="4.6" fill="none" stroke="#ff0000" stroke-width="1.6"/>
<rect x="234.4" y="213.7" width="4.6" height="4.6" fill="none" stroke="#ff0000" stroke-width="1.6"/>
<rect x="244.4" y="208.2" width="4.6" height="4.6" fill="none" stroke="#ff0000" stroke-width="1.6"/>
<rect x="211.5" y="229.6" width="4.6" height="4.6" fill="none" stroke="#ff0000" stroke-width="1.6"/>
<rect x="187.2" y="241.7" width="4.6" height="4.6" fill="none" stroke="#ff0000" stroke-width="1.6"/>
<rect x="209.4" y="228.7" width="4.6" height="4.6" fill="none" stroke="#ff0000" stroke-width="1.6"/>
<rect x="181.3" y="250.5" width="4.6" height="4.6" fill="none" stroke="#ff0000" stroke-width="1.6"/>
<rect x="195.4" y="242.7" width="4.6" height="4.6" fill="none" stroke="#ff0000" stroke-width="1.6"/>
<rect x="175.4" y="256.5" width="4.6" height="4.6" fill="none" stroke="#ff0000" stroke-width="1.6"/>
<rect x="210.5" y="231.5" width="4.6" height="4.6" fill="none" stroke="#ff0000" stroke-width="1.6"/>
<rect x="187.2" y="243.5" width="4.6" height="4.6" fill="none" stroke="#ff0000" stroke-width="1.6"/>
<rect x="204.0" y="233.2" width="4.6" height="4.6" fill="none" stroke="#ff0000" stroke-width="1.6"/>
<rect x="191.4" y="245.4" width="4.6" height="4.6" fill="none" stroke="#ff0000" stroke-width="1.6"/>
<rect x="186.0" y="242.6" width="4.6" height="4.6" fill="none" stroke="#ff0000" stroke-width="1.6"/>
<rect x="184.3" y="244.0" width="4.6" height="4.6" fill="none" stroke="#ff0000" stroke-width="1.6"/>
<rect x="201.2" y="235.7" width="4.6" height="4.6" fill="none" stroke="#ff0000" stroke-width="1.6"/>
<rect x="181.1" y="249.7" width="4.6" height="4.6" fill="none" stroke="#ff0000" stroke-width="1.6"/>
<rect x="201.4" y="235.0" width="4.6" height="4.6" fill="none" stroke="#ff0000" stroke-width="1.6"/>
<rect x="208.3" y="229.6" width="4.6" height="4.6" fill="none" stroke="#ff0000" stroke-width="1.6"/>
<rect x="204.3" y="236.2" width="4.6" height="4.6" fill="none" stroke="#ff0000" stroke-width="1.6"/>
<rect x="212.2" y="225.3" width="4.6" height="4.6" fill="none" stroke="#ff0000" stroke-width="1.6"/>
<rect x="202.0" y="230.2" width="4.6" height="4.6" fill="none" stroke="#ff0000" stroke-width="1.6"/>
<rect x="174.5" y="251.5" width="4.6" height="4.6" fill="none" stroke="#ff0000" stroke-width="1.6"/>
<rect x="204.7" y="229.6" width="4.6" height="4.6" fill="none" stroke="#ff0000" stroke-width="1.6"/>
<rect x="189.5" y="243.1" width="4.6" height="4.6" fill="none" stroke="#ff0000" stroke-width="1.6"/>
<rect x="189.3" y="242.3" width="4.6" height="4.6" fill="none" stroke="#ff0000" stroke-width="1.6"/>
<rect x="193.0" y="245.1" width="4.6" height="4.6" fill="none" stroke="#ff0000" stroke-width="1.6"/>
<rect x="190.3" y="244.2" width="4.6" height="4.6" fill="none" stroke="#ff0000" stroke-width="1.6"/>
<rect x="203.7" y="232.7" width="4.6" height="4.6" fill="none" stroke="#ff0000" stroke-width="1.6"/>
<rect x="172.1" y="255.1" width="4.6" height="4.6" fill="none" stroke="#ff0000" stroke-width="1.6"/>
<rect x="204.7" y="228.6" width="4.6" height="4.6" fill="none" stroke="#ff0000" stroke-width="1.6"/>
<rect x="181.3" y="251.9" width="4.6" height="4.6" fill="none" stroke="#ff0000" stroke-width="1.6"/>
<rect x="200.8" y="235.3" width="4.6" height="4.6" fill="none" stroke="#ff0000" stroke-width="1.6"/>
<rect x="201.0" y="235.5" width="4.6" height="4.6" fill="none" stroke="#ff0000" stroke-width="1.6"/>
<rect x="173.2" y="252.5" width="4.6" height="4.6" fill="none" stroke="#ff0000" stroke-width="1.6"/>
<rect x="180.8" y="252.1" width="4.6" height="4.6" fill="none" stroke="#ff0000" stroke-width="1.6"/>
<rect x="181.8" y="247.1" width="4.6" height="4.6" fill="none" stroke="#ff0000" stroke-width="1.6"/>
<rect x="178.9" y="248.1" width="4.6" height="4.6" fill="none" stroke="#ff0000" stroke-width="1.6"/>
<rect x="188.1" y="241.9" width="4.6" height="4.6" fill="none" stroke="#ff0000" stroke-width="1.6"/>
<rect x="194.8" y="235.8" width="4.6" height="4.6" fill="none" stroke="#ff0000" stroke-width="1.6"/>
<rect x="194.3" y="238.6" width="4.6" height="4.6" fill="none" stroke="#ff0000" stroke-width="1.6"/>
<rect x="199.8" y="235.3" width="4.6" height="4.6" fill="none" stroke="#ff0000" stroke-width="1.6"/>
<rect x="177.4" y="253.1" width="4.6" height="4.6" fill="none" stroke="#ff0000" stroke-width="1.6"/>
<rect x="183.3" y="249.9" width="4.6" height="4.6" fill="none" stroke="#ff0000" stroke-width="1.6"/>
<rect x="200.2" y="237.3" width="4.6" height="4.6" fill="none" stroke="#ff0000" stroke-width="1.6"/>
<rect x="194.3" y="243.1" width="4.6" height="4.6" fill="none" stroke="#ff0000" stroke-width="1.6"/>
<rect x="198.9" y="237.7" width="4.6" height="4.6" fill="none" stroke="#ff0000" stroke-width="1.6"/>
<rect x="202.3" y="237.2" width="4.6" height="4.6" fill="none" stroke="#ff0000" stroke-width="1.6"/>
<rect x="185.5" y="245.4" width="4.6" height="4.6" fill="none" stroke="#ff0000" stroke-width="1.6"/>
<rect x="216.9" y="219.4" width="4.6" height="4.6" fill="none" stroke="#ff0000" stroke-width="1.6"/>
<rect x="196.3" y="244.2" width="4.6" height="4.6" fill="none" stroke="#ff0000" stroke-width="1.6"/>
<rect x="176.7" y="254.5" width="4.6" height="4.6" fill="none" stroke="#ff0000" stroke-width="1.6"/>
<rect x="216.1" y="223.7" width="4.6" height="4.6" fill="none" stroke="#ff0000" stroke-width="1.6"/>
<rect x="197.6" y="239.7" width="4.6" height="4.6" fill="none" stroke="#ff0000" stroke-width="1.6"/>
<rect x="177.0" y="252.5" width="4.6" height="4.6" fill="none" stroke="#ff0000" stroke-width="1.6"/>
<rect x="193.8" y="242.3" width="4.6" height="4.6" fill="none" stroke="#ff0000" stroke-width="1.6"/>
<rect x="189.2" y="243.3" width="4.6" height="4.6" fill="none" stroke="#ff0000" stroke-width="1.6"/>
<rect x="175.5" y="253.0" width="4.6" height="4.6" fill="none" stroke="#ff0000" stroke-width="1.6"/>
<rect x="243.0" y="194.2" width="4.6" height="4.6" fill="none" stroke="#ff0000" stroke-width="1.6"/>
<rect x="202.1" y="242.7" width="4.6" height="4.6" fill="none" stroke="#ff0000" stroke-width="1.6"/>
<rect x="415.8" y="242.7" width="4.6" height="4.6" fill="none" stroke="#ff0000" stroke-width="1.6"/>
</g><g>
<circle cx="75.5" cy="308.4" r="2.4" fill="none" stroke="#29abe2" stroke-width="2.0"/>
<circle cx="87.5" cy="297.2" r="2.4" fill="none" stroke="#29abe2" stroke-width="2.0"/>
<circle cx="89.4" cy="288.1" r="2.4" fill="none" stroke="#29abe2" stroke-width="2.0"/>
<circle cx="90.5" cy="291.5" r="2.4" fill="none" stroke="#29abe2" stroke-width="2.0"/>
<circle cx="96.4" cy="293.2" r="2.4" fill="none" stroke="#29abe2" stroke-width="2.0"/>
<circle cx="102.7" cy="287.2" r="2.4" fill="none" stroke="#29abe2" stroke-width="2.0"/>
<circle cx="110.3" cy="282.3" r="2.4" fill="none" stroke="#29abe2" stroke-width="2.0"/>
<circle cx="93.0" cy="292.1" r="2.4" fill="none" stroke="#29abe2" stroke-width="2.0"/>
<circle cx="110.6" cy="268.8" r="2.4" fill="none" stroke="#29abe2" stroke-width="2.0"/>
<circle cx="124.5" cy="271.2" r="2.4" fill="none" stroke="#29abe2" stroke-width="2.0"/>
<circle cx="129.5" cy="267.2" r="2.4" fill="none" stroke="#29abe2" stroke-width="2.0"/>
<circle cx="130.8" cy="253.7" r="2.4" fill="none" stroke="#29abe2" stroke-width="2.0"/>
<circle cx="138.4" cy="250.9" r="2.4" fill="none" stroke="#29abe2" stroke-width="2.0"/>
<circle cx="143.5" cy="253.8" r="2.4" fill="none" stroke="#29abe2" stroke-width="2.0"/>
<circle cx="153.1" cy="250.7" r="2.4" fill="none" stroke="#29abe2" stroke-width="2.0"/>
<circle cx="155.4" cy="242.4" r="2.4" fill="none" stroke="#29abe2" stroke-width="2.0"/>
<circle cx="152.0" cy="250.4" r="2.4" fill="none" stroke="#29abe2" stroke-width="2.0"/>
<circle cx="147.5" cy="247.8" r="2.4" fill="none" stroke="#29abe2" stroke-width="2.0"/>
<circle cx="97.5" cy="282.4" r="2.4" fill="none" stroke="#29abe2" stroke-width="2.0"/>
<circle cx="94.4" cy="285.3" r="2.4" fill="none" stroke="#29abe2" stroke-width="2.0"/>
<circle cx="100.2" cy="278.6" r="2.4" fill="none" stroke="#29abe2" stroke-width="2.0"/>
<circle cx="99.8" cy="279.7" r="2.4" fill="none" stroke="#29abe2" stroke-width="2.0"/>
<circle cx="94.0" cy="282.9" r="2.4" fill="none" stroke="#29abe2" stroke-width="2.0"/>
<circle cx="94.6" cy="283.3" r="2.4" fill="none" stroke="#29abe2" stroke-width="2.0"/>
<circle cx="98.8" cy="280.4" r="2.4" fill="none" stroke="#29abe2" stroke-width="2.0"/>
<circle cx="96.3" cy="281.1" r="2.4" fill="none" stroke="#29abe2" stroke-width="2.0"/>
<circle cx="101.3" cy="280.3" r="2.4" fill="none" stroke="#29abe2" stroke-width="2.0"/>
<circle cx="98.5" cy="279.5" r="2.4" fill="none" stroke="#29abe2" stroke-width="2.0"/>
<circle cx="105.7" cy="278.3" r="2.4" fill="none" stroke="#29abe2" stroke-width="2.0"/>
<circle cx="97.1" cy="282.2" r="2.4" fill="none" stroke="#29abe2" stroke-width="2.0"/>
<circle cx="95.3" cy="283.7" r="2.4" fill="none" stroke="#29abe2" stroke-width="2.0"/>
<circle cx="103.7" cy="277.5" r="2.4" fill="none" stroke="#29abe2" stroke-width="2.0"/>
<circle cx="95.8" cy="280.1" r="2.4" fill="none" stroke="#29abe2" stroke-width="2.0"/>
<circle cx="98.2" cy="284.2" r="2.4" fill="none" stroke="#29abe2" stroke-width="2.0"/>
<circle cx="100.3" cy="284.1" r="2.4" fill="none" stroke="#29abe2" stroke-width="2.0"/>
<circle cx="96.1" cy="286.9" r="2.4" fill="none" stroke="#29abe2" stroke-width="2.0"/>
<circle cx="102.0" cy="281.3" r="2.4" fill="none" stroke="#29abe2" stroke-width="2.0"/>
<circle cx="100.8" cy="283.8" r="2.4" fill="none" stroke="#29abe2" stroke-width="2.0"/>
<circle cx="122.7" cy="267.8" r="2.4" fill="none" stroke="#29abe2" stroke-width="2.0"/>
<circle cx="114.5" cy="268.4" r="2.4" fill="none" stroke="#29abe2" stroke-width="2.0"/>
<circle cx="125.5" cy="264.3" r="2.4" fill="none" stroke="#29abe2" stroke-width="2.0"/>
<circle cx="121.3" cy="265.3" r="2.4" fill="none" stroke="#29abe2" stroke-width="2.0"/>
<circle cx="110.9" cy="279.2" r="2.4" fill="none" stroke="#29abe2" stroke-width="2.0"/>
<circle cx="134.8" cy="258.8" r="2.4" fill="none" stroke="#29abe2" stroke-width="2.0"/>
<circle cx="139.1" cy="253.3" r="2.4" fill="none" stroke="#29abe2" stroke-width="2.0"/>
<circle cx="127.6" cy="259.5" r="2.4" fill="none" stroke="#29abe2" stroke-width="2.0"/>
<circle cx="137.8" cy="251.5" r="2.4" fill="none" stroke="#29abe2" stroke-width="2.0"/>
<circle cx="107.4" cy="278.5" r="2.4" fill="none" stroke="#29abe2" stroke-width="2.0"/>
<circle cx="130.2" cy="262.1" r="2.4" fill="none" stroke="#29abe2" stroke-width="2.0"/>
<circle cx="120.0" cy="266.5" r="2.4" fill="none" stroke="#29abe2" stroke-width="2.0"/>
<circle cx="105.9" cy="279.6" r="2.4" fill="none" stroke="#29abe2" stroke-width="2.0"/>
<circle cx="107.3" cy="279.1" r="2.4" fill="none" stroke="#29abe2" stroke-width="2.0"/>
<circle cx="110.0" cy="271.4" r="2.4" fill="none" stroke="#29abe2" stroke-width="2.0"/>
<circle cx="108.1" cy="280.8" r="2.4" fill="none" stroke="#29abe2" stroke-width="2.0"/>
<circle cx="126.4" cy="266.2" r="2.4" fill="none" stroke="#29abe2" stroke-width="2.0"/>
<circle cx="115.9" cy="266.5" r="2.4" fill="none" stroke="#29abe2" stroke-width="2.0"/>
<circle cx="119.0" cy="270.8" r="2.4" fill="none" stroke="#29abe2" stroke-width="2.0"/>
<circle cx="111.9" cy="274.1" r="2.4" fill="none" stroke="#29abe2" stroke-width="2.0"/>
<circle cx="114.1" cy="271.0" r="2.4" fill="none" stroke="#29abe2" stroke-width="2.0"/>
<circle cx="105.2" cy="278.2" r="2.4" fill="none" stroke="#29abe2" stroke-width="2.0"/>
<circle cx="119.4" cy="273.1" r="2.4" fill="none" stroke="#29abe2" stroke-width="2.0"/>
<circle cx="125.1" cy="263.6" r="2.4" fill="none" stroke="#29abe2" stroke-width="2.0"/>
<circle cx="131.4" cy="264.2" r="2.4" fill="none" stroke="#29abe2" stroke-width="2.0"/>
<circle cx="139.1" cy="251.7" r="2.4" fill="none" stroke="#29abe2" stroke-width="2.0"/>
<circle cx="120.3" cy="271.5" r="2.4" fill="none" stroke="#29abe2" stroke-width="2.0"/>
<circle cx="107.4" cy="280.2" r="2.4" fill="none" stroke="#29abe2" stroke-width="2.0"/>
<circle cx="113.1" cy="273.1" r="2.4" fill="none" stroke="#29abe2" stroke-width="2.0"/>
<circle cx="105.0" cy="280.3" r="2.4" fill="none" stroke="#29abe2" stroke-width="2.0"/>
<circle cx="109.0" cy="282.3" r="2.4" fill="none" stroke="#29abe2" stroke-width="2.0"/>
<circle cx="128.9" cy="262.9" r="2.4" fill="none" stroke="#29abe2" stroke-width="2.0"/>
<circle cx="114.8" cy="271.4" r="2.4" fill="none" stroke="#29abe2" stroke-width="2.0"/>
<circle cx="138.1" cy="256.4" r="2.4" fill="none" stroke="#29abe2" stroke-width="2.0"/>
<circle cx="123.2" cy="267.4" r="2.4" fill="none" stroke="#29abe2" stroke-width="2.0"/>
<circle cx="118.4" cy="270.4" r="2.4" fill="none" stroke="#29abe2" stroke-width="2.0"/>
<circle cx="105.9" cy="277.3" r="2.4" fill="none" stroke="#29abe2" stroke-width="2.0"/>
<circle cx="126.2" cy="263.8" r="2.4" fill="none" stroke="#29abe2" stroke-width="2.0"/>
<circle cx="125.6" cy="267.3" r="2.4" fill="none" stroke="#29abe2" stroke-width="2.0"/>
<circle cx="115.2" cy="268.8" r="2.4" fill="none" stroke="#29abe2" stroke-width="2.0"/>
<circle cx="111.5" cy="270.0" r="2.4" fill="none" stroke="#29abe2" stroke-width="2.0"/>
<circle cx="117.9" cy="269.1" r="2.4" fill="none" stroke="#29abe2" stroke-width="2.0"/>
<circle cx="136.6" cy="259.4" r="2.4" fill="none" stroke="#29abe2" stroke-width="2.0"/>
<circle cx="136.9" cy="252.2" r="2.4" fill="none" stroke="#29abe2" stroke-width="2.0"/>
<circle cx="113.8" cy="272.6" r="2.4" fill="none" stroke="#29abe2" stroke-width="2.0"/>
<circle cx="106.1" cy="279.3" r="2.4" fill="none" stroke="#29abe2" stroke-width="2.0"/>
<circle cx="115.1" cy="275.1" r="2.4" fill="none" stroke="#29abe2" stroke-width="2.0"/>
<circle cx="141.5" cy="252.0" r="2.4" fill="none" stroke="#29abe2" stroke-width="2.0"/>
<circle cx="142.2" cy="252.7" r="2.4" fill="none" stroke="#29abe2" stroke-width="2.0"/>
<circle cx="112.7" cy="275.9" r="2.4" fill="none" stroke="#29abe2" stroke-width="2.0"/>
<circle cx="129.3" cy="263.5" r="2.4" fill="none" stroke="#29abe2" stroke-width="2.0"/>
<circle cx="130.5" cy="258.2" r="2.4" fill="none" stroke="#29abe2" stroke-width="2.0"/>
<circle cx="108.3" cy="281.2" r="2.4" fill="none" stroke="#29abe2" stroke-width="2.0"/>
<circle cx="134.3" cy="255.5" r="2.4" fill="none" stroke="#29abe2" stroke-width="2.0"/>
<circle cx="112.0" cy="271.9" r="2.4" fill="none" stroke="#29abe2" stroke-width="2.0"/>
</g>
<line x1="76.1" y1="311.8" x2="155.2" y2="238.1" stroke="#000" stroke-width="1.7" stroke-dasharray="6.5 7.7" stroke-linecap="butt"/>
<line x1="75.9" y1="318.1" x2="154.0" y2="237.0" stroke="#000" stroke-width="1.8" stroke-dasharray="0.01 5.1" stroke-linecap="round"/>
<line x1="75.8" y1="301.2" x2="155.2" y2="243.2" stroke="#0000ff" stroke-width="1.8" stroke-linecap="butt"/>
<line x1="153.5" y1="279.0" x2="241.1" y2="216.0" stroke="#000" stroke-width="1.7" stroke-dasharray="6.5 7.7" stroke-linecap="butt"/>
<line x1="153.5" y1="280.5" x2="244.0" y2="216.6" stroke="#000" stroke-width="1.8" stroke-dasharray="0.01 5.1" stroke-linecap="round"/>
<line x1="153.5" y1="277.5" x2="246.4" y2="205.5" stroke="#8a00c8" stroke-width="1.8" stroke-linecap="butt"/>
<path d="M163.9 233.9L167.8 230.2L171.7 233.9L167.8 237.6Z" fill="none" stroke="#0000ff" stroke-width="1.9"/>
<path d="M174.0 220.8L177.9 217.1L181.8 220.8L177.9 224.5Z" fill="none" stroke="#0000ff" stroke-width="1.9"/>
<path d="M216.9 316.2V320.0M215.7 316.2h2.4M215.7 320.0h2.4" stroke="#29abe2" stroke-width="1.5" fill="none"/>
<path d="M225.3 315.3V320.5M224.1 315.3h2.4M224.1 320.5h2.4" stroke="#ff0000" stroke-width="1.5" fill="none"/>
<g>
<rect x="364.4" y="280.2" width="4.6" height="4.6" fill="none" stroke="#ff0000" stroke-width="1.6"/>
<rect x="366.4" y="274.7" width="4.6" height="4.6" fill="none" stroke="#ff0000" stroke-width="1.6"/>
<rect x="368.4" y="275.5" width="4.6" height="4.6" fill="none" stroke="#ff0000" stroke-width="1.6"/>
<rect x="371.4" y="265.5" width="4.6" height="4.6" fill="none" stroke="#ff0000" stroke-width="1.6"/>
<rect x="372.7" y="274.1" width="4.6" height="4.6" fill="none" stroke="#ff0000" stroke-width="1.6"/>
<rect x="375.9" y="263.0" width="4.6" height="4.6" fill="none" stroke="#ff0000" stroke-width="1.6"/>
<rect x="374.4" y="270.5" width="4.6" height="4.6" fill="none" stroke="#ff0000" stroke-width="1.6"/>
<rect x="377.4" y="267.2" width="4.6" height="4.6" fill="none" stroke="#ff0000" stroke-width="1.6"/>
<rect x="379.9" y="267.5" width="4.6" height="4.6" fill="none" stroke="#ff0000" stroke-width="1.6"/>
<rect x="386.6" y="264.7" width="4.6" height="4.6" fill="none" stroke="#ff0000" stroke-width="1.6"/>
<rect x="389.8" y="261.8" width="4.6" height="4.6" fill="none" stroke="#ff0000" stroke-width="1.6"/>
<rect x="396.7" y="256.2" width="4.6" height="4.6" fill="none" stroke="#ff0000" stroke-width="1.6"/>
<rect x="382.4" y="264.6" width="4.6" height="4.6" fill="none" stroke="#ff0000" stroke-width="1.6"/>
<rect x="384.4" y="264.4" width="4.6" height="4.6" fill="none" stroke="#ff0000" stroke-width="1.6"/>
<rect x="423.7" y="225.0" width="4.6" height="4.6" fill="none" stroke="#ff0000" stroke-width="1.6"/>
<rect x="429.4" y="228.2" width="4.6" height="4.6" fill="none" stroke="#ff0000" stroke-width="1.6"/>
<rect x="432.2" y="220.7" width="4.6" height="4.6" fill="none" stroke="#ff0000" stroke-width="1.6"/>
<rect x="434.2" y="223.1" width="4.6" height="4.6" fill="none" stroke="#ff0000" stroke-width="1.6"/>
<rect x="436.4" y="220.8" width="4.6" height="4.6" fill="none" stroke="#ff0000" stroke-width="1.6"/>
<rect x="439.2" y="226.2" width="4.6" height="4.6" fill="none" stroke="#ff0000" stroke-width="1.6"/>
<rect x="440.4" y="218.7" width="4.6" height="4.6" fill="none" stroke="#ff0000" stroke-width="1.6"/>
<rect x="442.3" y="214.9" width="4.6" height="4.6" fill="none" stroke="#ff0000" stroke-width="1.6"/>
<rect x="443.7" y="218.4" width="4.6" height="4.6" fill="none" stroke="#ff0000" stroke-width="1.6"/>
<rect x="448.1" y="213.7" width="4.6" height="4.6" fill="none" stroke="#ff0000" stroke-width="1.6"/>
<rect x="458.1" y="208.2" width="4.6" height="4.6" fill="none" stroke="#ff0000" stroke-width="1.6"/>
<rect x="425.2" y="229.6" width="4.6" height="4.6" fill="none" stroke="#ff0000" stroke-width="1.6"/>
<rect x="400.9" y="241.7" width="4.6" height="4.6" fill="none" stroke="#ff0000" stroke-width="1.6"/>
<rect x="423.1" y="228.7" width="4.6" height="4.6" fill="none" stroke="#ff0000" stroke-width="1.6"/>
<rect x="395.0" y="250.5" width="4.6" height="4.6" fill="none" stroke="#ff0000" stroke-width="1.6"/>
<rect x="409.1" y="242.7" width="4.6" height="4.6" fill="none" stroke="#ff0000" stroke-width="1.6"/>
<rect x="389.1" y="256.5" width="4.6" height="4.6" fill="none" stroke="#ff0000" stroke-width="1.6"/>
<rect x="424.2" y="231.5" width="4.6" height="4.6" fill="none" stroke="#ff0000" stroke-width="1.6"/>
<rect x="400.9" y="243.5" width="4.6" height="4.6" fill="none" stroke="#ff0000" stroke-width="1.6"/>
<rect x="417.7" y="233.2" width="4.6" height="4.6" fill="none" stroke="#ff0000" stroke-width="1.6"/>
<rect x="405.1" y="245.4" width="4.6" height="4.6" fill="none" stroke="#ff0000" stroke-width="1.6"/>
<rect x="399.7" y="242.6" width="4.6" height="4.6" fill="none" stroke="#ff0000" stroke-width="1.6"/>
<rect x="398.0" y="244.0" width="4.6" height="4.6" fill="none" stroke="#ff0000" stroke-width="1.6"/>
<rect x="414.9" y="235.7" width="4.6" height="4.6" fill="none" stroke="#ff0000" stroke-width="1.6"/>
<rect x="394.8" y="249.7" width="4.6" height="4.6" fill="none" stroke="#ff0000" stroke-width="1.6"/>
<rect x="415.1" y="235.0" width="4.6" height="4.6" fill="none" stroke="#ff0000" stroke-width="1.6"/>
<rect x="422.0" y="229.6" width="4.6" height="4.6" fill="none" stroke="#ff0000" stroke-width="1.6"/>
<rect x="418.0" y="236.2" width="4.6" height="4.6" fill="none" stroke="#ff0000" stroke-width="1.6"/>
<rect x="425.9" y="225.3" width="4.6" height="4.6" fill="none" stroke="#ff0000" stroke-width="1.6"/>
<rect x="415.7" y="230.2" width="4.6" height="4.6" fill="none" stroke="#ff0000" stroke-width="1.6"/>
<rect x="388.2" y="251.5" width="4.6" height="4.6" fill="none" stroke="#ff0000" stroke-width="1.6"/>
<rect x="418.4" y="229.6" width="4.6" height="4.6" fill="none" stroke="#ff0000" stroke-width="1.6"/>
<rect x="403.2" y="243.1" width="4.6" height="4.6" fill="none" stroke="#ff0000" stroke-width="1.6"/>
<rect x="403.0" y="242.3" width="4.6" height="4.6" fill="none" stroke="#ff0000" stroke-width="1.6"/>
<rect x="406.7" y="245.1" width="4.6" height="4.6" fill="none" stroke="#ff0000" stroke-width="1.6"/>
<rect x="404.0" y="244.2" width="4.6" height="4.6" fill="none" stroke="#ff0000" stroke-width="1.6"/>
<rect x="417.4" y="232.7" width="4.6" height="4.6" fill="none" stroke="#ff0000" stroke-width="1.6"/>
<rect x="385.8" y="255.1" width="4.6" height="4.6" fill="none" stroke="#ff0000" stroke-width="1.6"/>
<rect x="418.4" y="228.6" width="4.6" height="4.6" fill="none" stroke="#ff0000" stroke-width="1.6"/>
<rect x="395.0" y="251.9" width="4.6" height="4.6" fill="none" stroke="#ff0000" stroke-width="1.6"/>
<rect x="414.5" y="235.3" width="4.6" height="4.6" fill="none" stroke="#ff0000" stroke-width="1.6"/>
<rect x="414.7" y="235.5" width="4.6" height="4.6" fill="none" stroke="#ff0000" stroke-width="1.6"/>
<rect x="386.9" y="252.5" width="4.6" height="4.6" fill="none" stroke="#ff0000" stroke-width="1.6"/>
<rect x="394.5" y="252.1" width="4.6" height="4.6" fill="none" stroke="#ff0000" stroke-width="1.6"/>
<rect x="395.5" y="247.1" width="4.6" height="4.6" fill="none" stroke="#ff0000" stroke-width="1.6"/>
<rect x="392.6" y="248.1" width="4.6" height="4.6" fill="none" stroke="#ff0000" stroke-width="1.6"/>
<rect x="401.8" y="241.9" width="4.6" height="4.6" fill="none" stroke="#ff0000" stroke-width="1.6"/>
<rect x="408.5" y="235.8" width="4.6" height="4.6" fill="none" stroke="#ff0000" stroke-width="1.6"/>
<rect x="408.0" y="238.6" width="4.6" height="4.6" fill="none" stroke="#ff0000" stroke-width="1.6"/>
<rect x="413.5" y="235.3" width="4.6" height="4.6" fill="none" stroke="#ff0000" stroke-width="1.6"/>
<rect x="391.1" y="253.1" width="4.6" height="4.6" fill="none" stroke="#ff0000" stroke-width="1.6"/>
<rect x="397.0" y="249.9" width="4.6" height="4.6" fill="none" stroke="#ff0000" stroke-width="1.6"/>
<rect x="413.9" y="237.3" width="4.6" height="4.6" fill="none" stroke="#ff0000" stroke-width="1.6"/>
<rect x="408.0" y="243.1" width="4.6" height="4.6" fill="none" stroke="#ff0000" stroke-width="1.6"/>
<rect x="412.6" y="237.7" width="4.6" height="4.6" fill="none" stroke="#ff0000" stroke-width="1.6"/>
<rect x="416.0" y="237.2" width="4.6" height="4.6" fill="none" stroke="#ff0000" stroke-width="1.6"/>
<rect x="399.2" y="245.4" width="4.6" height="4.6" fill="none" stroke="#ff0000" stroke-width="1.6"/>
<rect x="430.6" y="219.4" width="4.6" height="4.6" fill="none" stroke="#ff0000" stroke-width="1.6"/>
<rect x="410.0" y="244.2" width="4.6" height="4.6" fill="none" stroke="#ff0000" stroke-width="1.6"/>
<rect x="390.4" y="254.5" width="4.6" height="4.6" fill="none" stroke="#ff0000" stroke-width="1.6"/>
<rect x="429.8" y="223.7" width="4.6" height="4.6" fill="none" stroke="#ff0000" stroke-width="1.6"/>
<rect x="411.3" y="239.7" width="4.6" height="4.6" fill="none" stroke="#ff0000" stroke-width="1.6"/>
<rect x="390.7" y="252.5" width="4.6" height="4.6" fill="none" stroke="#ff0000" stroke-width="1.6"/>
<rect x="407.5" y="242.3" width="4.6" height="4.6" fill="none" stroke="#ff0000" stroke-width="1.6"/>
<rect x="402.9" y="243.3" width="4.6" height="4.6" fill="none" stroke="#ff0000" stroke-width="1.6"/>
<rect x="389.2" y="253.0" width="4.6" height="4.6" fill="none" stroke="#ff0000" stroke-width="1.6"/>
</g><g>
<circle cx="325.4" cy="308.4" r="2.15" fill="none" stroke="#29abe2" stroke-width="2.0"/>
<circle cx="337.4" cy="297.2" r="2.15" fill="none" stroke="#29abe2" stroke-width="2.0"/>
<circle cx="339.3" cy="288.1" r="2.15" fill="none" stroke="#29abe2" stroke-width="2.0"/>
<circle cx="340.4" cy="291.5" r="2.15" fill="none" stroke="#29abe2" stroke-width="2.0"/>
<circle cx="346.3" cy="293.2" r="2.15" fill="none" stroke="#29abe2" stroke-width="2.0"/>
<circle cx="352.6" cy="287.2" r="2.15" fill="none" stroke="#29abe2" stroke-width="2.0"/>
<circle cx="360.2" cy="282.3" r="2.15" fill="none" stroke="#29abe2" stroke-width="2.0"/>
<circle cx="342.9" cy="292.1" r="2.15" fill="none" stroke="#29abe2" stroke-width="2.0"/>
<circle cx="360.5" cy="268.8" r="2.15" fill="none" stroke="#29abe2" stroke-width="2.0"/>
<circle cx="374.4" cy="271.2" r="2.15" fill="none" stroke="#29abe2" stroke-width="2.0"/>
<circle cx="379.4" cy="267.2" r="2.15" fill="none" stroke="#29abe2" stroke-width="2.0"/>
<circle cx="380.7" cy="253.7" r="2.15" fill="none" stroke="#29abe2" stroke-width="2.0"/>
<circle cx="388.3" cy="250.9" r="2.15" fill="none" stroke="#29abe2" stroke-width="2.0"/>
<circle cx="393.4" cy="253.8" r="2.15" fill="none" stroke="#29abe2" stroke-width="2.0"/>
<circle cx="403.0" cy="250.7" r="2.15" fill="none" stroke="#29abe2" stroke-width="2.0"/>
<circle cx="405.3" cy="242.4" r="2.15" fill="none" stroke="#29abe2" stroke-width="2.0"/>
<circle cx="401.9" cy="250.4" r="2.15" fill="none" stroke="#29abe2" stroke-width="2.0"/>
<circle cx="397.4" cy="247.8" r="2.15" fill="none" stroke="#29abe2" stroke-width="2.0"/>
<circle cx="347.4" cy="282.4" r="2.15" fill="none" stroke="#29abe2" stroke-width="2.0"/>
<circle cx="344.3" cy="285.3" r="2.15" fill="none" stroke="#29abe2" stroke-width="2.0"/>
<circle cx="350.1" cy="278.6" r="2.15" fill="none" stroke="#29abe2" stroke-width="2.0"/>
<circle cx="349.7" cy="279.7" r="2.15" fill="none" stroke="#29abe2" stroke-width="2.0"/>
<circle cx="343.8" cy="282.9" r="2.15" fill="none" stroke="#29abe2" stroke-width="2.0"/>
<circle cx="344.5" cy="283.3" r="2.15" fill="none" stroke="#29abe2" stroke-width="2.0"/>
<circle cx="348.7" cy="280.4" r="2.15" fill="none" stroke="#29abe2" stroke-width="2.0"/>
<circle cx="346.1" cy="281.1" r="2.15" fill="none" stroke="#29abe2" stroke-width="2.0"/>
<circle cx="351.2" cy="280.3" r="2.15" fill="none" stroke="#29abe2" stroke-width="2.0"/>
<circle cx="348.3" cy="279.5" r="2.15" fill="none" stroke="#29abe2" stroke-width="2.0"/>
<circle cx="355.6" cy="278.3" r="2.15" fill="none" stroke="#29abe2" stroke-width="2.0"/>
<circle cx="347.0" cy="282.2" r="2.15" fill="none" stroke="#29abe2" stroke-width="2.0"/>
<circle cx="345.2" cy="283.7" r="2.15" fill="none" stroke="#29abe2" stroke-width="2.0"/>
<circle cx="353.6" cy="277.5" r="2.15" fill="none" stroke="#29abe2" stroke-width="2.0"/>
<circle cx="345.6" cy="280.1" r="2.15" fill="none" stroke="#29abe2" stroke-width="2.0"/>
<circle cx="348.0" cy="284.2" r="2.15" fill="none" stroke="#29abe2" stroke-width="2.0"/>
<circle cx="350.2" cy="284.1" r="2.15" fill="none" stroke="#29abe2" stroke-width="2.0"/>
<circle cx="345.9" cy="286.9" r="2.15" fill="none" stroke="#29abe2" stroke-width="2.0"/>
<circle cx="351.9" cy="281.3" r="2.15" fill="none" stroke="#29abe2" stroke-width="2.0"/>
<circle cx="350.7" cy="283.8" r="2.15" fill="none" stroke="#29abe2" stroke-width="2.0"/>
<circle cx="372.5" cy="267.8" r="2.15" fill="none" stroke="#29abe2" stroke-width="2.0"/>
<circle cx="364.4" cy="268.4" r="2.15" fill="none" stroke="#29abe2" stroke-width="2.0"/>
<circle cx="375.3" cy="264.3" r="2.15" fill="none" stroke="#29abe2" stroke-width="2.0"/>
<circle cx="371.2" cy="265.3" r="2.15" fill="none" stroke="#29abe2" stroke-width="2.0"/>
<circle cx="360.8" cy="279.2" r="2.15" fill="none" stroke="#29abe2" stroke-width="2.0"/>
<circle cx="384.7" cy="258.8" r="2.15" fill="none" stroke="#29abe2" stroke-width="2.0"/>
<circle cx="389.0" cy="253.3" r="2.15" fill="none" stroke="#29abe2" stroke-width="2.0"/>
<circle cx="377.5" cy="259.5" r="2.15" fill="none" stroke="#29abe2" stroke-width="2.0"/>
<circle cx="387.6" cy="251.5" r="2.15" fill="none" stroke="#29abe2" stroke-width="2.0"/>
<circle cx="357.2" cy="278.5" r="2.15" fill="none" stroke="#29abe2" stroke-width="2.0"/>
<circle cx="380.1" cy="262.1" r="2.15" fill="none" stroke="#29abe2" stroke-width="2.0"/>
<circle cx="369.9" cy="266.5" r="2.15" fill="none" stroke="#29abe2" stroke-width="2.0"/>
<circle cx="355.7" cy="279.6" r="2.15" fill="none" stroke="#29abe2" stroke-width="2.0"/>
<circle cx="357.2" cy="279.1" r="2.15" fill="none" stroke="#29abe2" stroke-width="2.0"/>
<circle cx="359.9" cy="271.4" r="2.15" fill="none" stroke="#29abe2" stroke-width="2.0"/>
<circle cx="358.0" cy="280.8" r="2.15" fill="none" stroke="#29abe2" stroke-width="2.0"/>
<circle cx="376.3" cy="266.2" r="2.15" fill="none" stroke="#29abe2" stroke-width="2.0"/>
<circle cx="365.7" cy="266.5" r="2.15" fill="none" stroke="#29abe2" stroke-width="2.0"/>
<circle cx="368.8" cy="270.8" r="2.15" fill="none" stroke="#29abe2" stroke-width="2.0"/>
<circle cx="361.7" cy="274.1" r="2.15" fill="none" stroke="#29abe2" stroke-width="2.0"/>
<circle cx="364.0" cy="271.0" r="2.15" fill="none" stroke="#29abe2" stroke-width="2.0"/>
<circle cx="355.0" cy="278.2" r="2.15" fill="none" stroke="#29abe2" stroke-width="2.0"/>
<circle cx="369.3" cy="273.1" r="2.15" fill="none" stroke="#29abe2" stroke-width="2.0"/>
<circle cx="375.0" cy="263.6" r="2.15" fill="none" stroke="#29abe2" stroke-width="2.0"/>
<circle cx="381.2" cy="264.2" r="2.15" fill="none" stroke="#29abe2" stroke-width="2.0"/>
<circle cx="389.0" cy="251.7" r="2.15" fill="none" stroke="#29abe2" stroke-width="2.0"/>
<circle cx="370.2" cy="271.5" r="2.15" fill="none" stroke="#29abe2" stroke-width="2.0"/>
<circle cx="357.3" cy="280.2" r="2.15" fill="none" stroke="#29abe2" stroke-width="2.0"/>
<circle cx="363.0" cy="273.1" r="2.15" fill="none" stroke="#29abe2" stroke-width="2.0"/>
<circle cx="354.9" cy="280.3" r="2.15" fill="none" stroke="#29abe2" stroke-width="2.0"/>
<circle cx="358.8" cy="282.3" r="2.15" fill="none" stroke="#29abe2" stroke-width="2.0"/>
<circle cx="378.8" cy="262.9" r="2.15" fill="none" stroke="#29abe2" stroke-width="2.0"/>
<circle cx="364.7" cy="271.4" r="2.15" fill="none" stroke="#29abe2" stroke-width="2.0"/>
<circle cx="388.0" cy="256.4" r="2.15" fill="none" stroke="#29abe2" stroke-width="2.0"/>
<circle cx="373.0" cy="267.4" r="2.15" fill="none" stroke="#29abe2" stroke-width="2.0"/>
<circle cx="368.2" cy="270.4" r="2.15" fill="none" stroke="#29abe2" stroke-width="2.0"/>
<circle cx="355.8" cy="277.3" r="2.15" fill="none" stroke="#29abe2" stroke-width="2.0"/>
<circle cx="376.0" cy="263.8" r="2.15" fill="none" stroke="#29abe2" stroke-width="2.0"/>
<circle cx="375.5" cy="267.3" r="2.15" fill="none" stroke="#29abe2" stroke-width="2.0"/>
<circle cx="365.0" cy="268.8" r="2.15" fill="none" stroke="#29abe2" stroke-width="2.0"/>
<circle cx="361.4" cy="270.0" r="2.15" fill="none" stroke="#29abe2" stroke-width="2.0"/>
<circle cx="367.7" cy="269.1" r="2.15" fill="none" stroke="#29abe2" stroke-width="2.0"/>
<circle cx="386.5" cy="259.4" r="2.15" fill="none" stroke="#29abe2" stroke-width="2.0"/>
<circle cx="386.8" cy="252.2" r="2.15" fill="none" stroke="#29abe2" stroke-width="2.0"/>
<circle cx="363.7" cy="272.6" r="2.15" fill="none" stroke="#29abe2" stroke-width="2.0"/>
<circle cx="355.9" cy="279.3" r="2.15" fill="none" stroke="#29abe2" stroke-width="2.0"/>
<circle cx="365.0" cy="275.1" r="2.15" fill="none" stroke="#29abe2" stroke-width="2.0"/>
<circle cx="391.4" cy="252.0" r="2.15" fill="none" stroke="#29abe2" stroke-width="2.0"/>
<circle cx="392.1" cy="252.7" r="2.15" fill="none" stroke="#29abe2" stroke-width="2.0"/>
<circle cx="362.5" cy="275.9" r="2.15" fill="none" stroke="#29abe2" stroke-width="2.0"/>
<circle cx="379.2" cy="263.5" r="2.15" fill="none" stroke="#29abe2" stroke-width="2.0"/>
<circle cx="380.3" cy="258.2" r="2.15" fill="none" stroke="#29abe2" stroke-width="2.0"/>
<circle cx="358.2" cy="281.2" r="2.15" fill="none" stroke="#29abe2" stroke-width="2.0"/>
<circle cx="384.1" cy="255.5" r="2.15" fill="none" stroke="#29abe2" stroke-width="2.0"/>
<circle cx="361.8" cy="271.9" r="2.15" fill="none" stroke="#29abe2" stroke-width="2.0"/>
</g>
<line x1="326.0" y1="307.2" x2="459.5" y2="213.3" stroke="#000" stroke-width="1.8" stroke-dasharray="0.01 5.1" stroke-linecap="round"/>
<line x1="325.4" y1="302.4" x2="460.0" y2="211.3" stroke="#000" stroke-width="1.7" stroke-dasharray="12 3.3" stroke-linecap="butt"/>
<line x1="325.4" y1="299.6" x2="460.0" y2="210.3" stroke="#000" stroke-width="1.8" stroke-linecap="butt"/>
<path d="M430.5 315.7V320.1M429.3 315.7h2.4M429.3 320.1h2.4" stroke="#000" stroke-width="1.4" fill="none"/>
<g>
<rect x="150.7" y="443.5" width="4.6" height="4.6" fill="none" stroke="#ff0000" stroke-width="1.6"/>
<rect x="152.7" y="438.0" width="4.6" height="4.6" fill="none" stroke="#ff0000" stroke-width="1.6"/>
<rect x="154.7" y="438.7" width="4.6" height="4.6" fill="none" stroke="#ff0000" stroke-width="1.6"/>
<rect x="157.7" y="428.7" width="4.6" height="4.6" fill="none" stroke="#ff0000" stroke-width="1.6"/>
<rect x="159.0" y="437.2" width="4.6" height="4.6" fill="none" stroke="#ff0000" stroke-width="1.6"/>
<rect x="162.2" y="426.1" width="4.6" height="4.6" fill="none" stroke="#ff0000" stroke-width="1.6"/>
<rect x="160.7" y="433.6" width="4.6" height="4.6" fill="none" stroke="#ff0000" stroke-width="1.6"/>
<rect x="163.7" y="430.2" width="4.6" height="4.6" fill="none" stroke="#ff0000" stroke-width="1.6"/>
<rect x="166.2" y="430.5" width="4.6" height="4.6" fill="none" stroke="#ff0000" stroke-width="1.6"/>
<rect x="172.9" y="427.5" width="4.6" height="4.6" fill="none" stroke="#ff0000" stroke-width="1.6"/>
<rect x="176.1" y="424.6" width="4.6" height="4.6" fill="none" stroke="#ff0000" stroke-width="1.6"/>
<rect x="183.0" y="418.8" width="4.6" height="4.6" fill="none" stroke="#ff0000" stroke-width="1.6"/>
<rect x="168.7" y="427.5" width="4.6" height="4.6" fill="none" stroke="#ff0000" stroke-width="1.6"/>
<rect x="170.7" y="427.3" width="4.6" height="4.6" fill="none" stroke="#ff0000" stroke-width="1.6"/>
<rect x="210.0" y="387.0" width="4.6" height="4.6" fill="none" stroke="#ff0000" stroke-width="1.6"/>
<rect x="215.7" y="390.1" width="4.6" height="4.6" fill="none" stroke="#ff0000" stroke-width="1.6"/>
<rect x="218.5" y="382.6" width="4.6" height="4.6" fill="none" stroke="#ff0000" stroke-width="1.6"/>
<rect x="220.5" y="384.9" width="4.6" height="4.6" fill="none" stroke="#ff0000" stroke-width="1.6"/>
<rect x="222.7" y="382.5" width="4.6" height="4.6" fill="none" stroke="#ff0000" stroke-width="1.6"/>
<rect x="225.5" y="387.9" width="4.6" height="4.6" fill="none" stroke="#ff0000" stroke-width="1.6"/>
<rect x="226.7" y="380.3" width="4.6" height="4.6" fill="none" stroke="#ff0000" stroke-width="1.6"/>
<rect x="228.6" y="376.5" width="4.6" height="4.6" fill="none" stroke="#ff0000" stroke-width="1.6"/>
<rect x="230.0" y="380.0" width="4.6" height="4.6" fill="none" stroke="#ff0000" stroke-width="1.6"/>
<rect x="234.4" y="375.2" width="4.6" height="4.6" fill="none" stroke="#ff0000" stroke-width="1.6"/>
<rect x="244.4" y="369.5" width="4.6" height="4.6" fill="none" stroke="#ff0000" stroke-width="1.6"/>
<rect x="211.5" y="391.6" width="4.6" height="4.6" fill="none" stroke="#ff0000" stroke-width="1.6"/>
<rect x="187.2" y="404.2" width="4.6" height="4.6" fill="none" stroke="#ff0000" stroke-width="1.6"/>
<rect x="209.4" y="390.8" width="4.6" height="4.6" fill="none" stroke="#ff0000" stroke-width="1.6"/>
<rect x="181.3" y="413.2" width="4.6" height="4.6" fill="none" stroke="#ff0000" stroke-width="1.6"/>
<rect x="195.4" y="405.0" width="4.6" height="4.6" fill="none" stroke="#ff0000" stroke-width="1.6"/>
<rect x="175.4" y="419.3" width="4.6" height="4.6" fill="none" stroke="#ff0000" stroke-width="1.6"/>
<rect x="210.5" y="393.5" width="4.6" height="4.6" fill="none" stroke="#ff0000" stroke-width="1.6"/>
<rect x="187.2" y="406.1" width="4.6" height="4.6" fill="none" stroke="#ff0000" stroke-width="1.6"/>
<rect x="204.0" y="395.4" width="4.6" height="4.6" fill="none" stroke="#ff0000" stroke-width="1.6"/>
<rect x="191.4" y="407.9" width="4.6" height="4.6" fill="none" stroke="#ff0000" stroke-width="1.6"/>
<rect x="186.0" y="405.2" width="4.6" height="4.6" fill="none" stroke="#ff0000" stroke-width="1.6"/>
<rect x="184.3" y="406.5" width="4.6" height="4.6" fill="none" stroke="#ff0000" stroke-width="1.6"/>
<rect x="201.2" y="397.9" width="4.6" height="4.6" fill="none" stroke="#ff0000" stroke-width="1.6"/>
<rect x="181.1" y="412.3" width="4.6" height="4.6" fill="none" stroke="#ff0000" stroke-width="1.6"/>
<rect x="201.4" y="397.2" width="4.6" height="4.6" fill="none" stroke="#ff0000" stroke-width="1.6"/>
<rect x="208.3" y="391.7" width="4.6" height="4.6" fill="none" stroke="#ff0000" stroke-width="1.6"/>
<rect x="204.3" y="398.3" width="4.6" height="4.6" fill="none" stroke="#ff0000" stroke-width="1.6"/>
<rect x="212.2" y="387.3" width="4.6" height="4.6" fill="none" stroke="#ff0000" stroke-width="1.6"/>
<rect x="202.0" y="392.4" width="4.6" height="4.6" fill="none" stroke="#ff0000" stroke-width="1.6"/>
<rect x="174.5" y="414.3" width="4.6" height="4.6" fill="none" stroke="#ff0000" stroke-width="1.6"/>
<rect x="204.7" y="391.7" width="4.6" height="4.6" fill="none" stroke="#ff0000" stroke-width="1.6"/>
<rect x="189.5" y="405.6" width="4.6" height="4.6" fill="none" stroke="#ff0000" stroke-width="1.6"/>
<rect x="189.3" y="404.8" width="4.6" height="4.6" fill="none" stroke="#ff0000" stroke-width="1.6"/>
<rect x="193.0" y="407.5" width="4.6" height="4.6" fill="none" stroke="#ff0000" stroke-width="1.6"/>
<rect x="190.3" y="406.6" width="4.6" height="4.6" fill="none" stroke="#ff0000" stroke-width="1.6"/>
<rect x="203.7" y="394.8" width="4.6" height="4.6" fill="none" stroke="#ff0000" stroke-width="1.6"/>
<rect x="172.1" y="417.9" width="4.6" height="4.6" fill="none" stroke="#ff0000" stroke-width="1.6"/>
<rect x="204.7" y="390.7" width="4.6" height="4.6" fill="none" stroke="#ff0000" stroke-width="1.6"/>
<rect x="181.3" y="414.5" width="4.6" height="4.6" fill="none" stroke="#ff0000" stroke-width="1.6"/>
<rect x="200.8" y="397.5" width="4.6" height="4.6" fill="none" stroke="#ff0000" stroke-width="1.6"/>
<rect x="201.0" y="397.7" width="4.6" height="4.6" fill="none" stroke="#ff0000" stroke-width="1.6"/>
<rect x="173.2" y="415.4" width="4.6" height="4.6" fill="none" stroke="#ff0000" stroke-width="1.6"/>
<rect x="180.8" y="414.8" width="4.6" height="4.6" fill="none" stroke="#ff0000" stroke-width="1.6"/>
<rect x="181.8" y="409.8" width="4.6" height="4.6" fill="none" stroke="#ff0000" stroke-width="1.6"/>
<rect x="178.9" y="410.8" width="4.6" height="4.6" fill="none" stroke="#ff0000" stroke-width="1.6"/>
<rect x="188.1" y="404.4" width="4.6" height="4.6" fill="none" stroke="#ff0000" stroke-width="1.6"/>
<rect x="194.8" y="398.2" width="4.6" height="4.6" fill="none" stroke="#ff0000" stroke-width="1.6"/>
<rect x="194.3" y="400.9" width="4.6" height="4.6" fill="none" stroke="#ff0000" stroke-width="1.6"/>
<rect x="199.8" y="397.6" width="4.6" height="4.6" fill="none" stroke="#ff0000" stroke-width="1.6"/>
<rect x="177.4" y="415.8" width="4.6" height="4.6" fill="none" stroke="#ff0000" stroke-width="1.6"/>
<rect x="183.3" y="412.5" width="4.6" height="4.6" fill="none" stroke="#ff0000" stroke-width="1.6"/>
<rect x="200.2" y="399.5" width="4.6" height="4.6" fill="none" stroke="#ff0000" stroke-width="1.6"/>
<rect x="194.3" y="405.5" width="4.6" height="4.6" fill="none" stroke="#ff0000" stroke-width="1.6"/>
<rect x="198.9" y="399.9" width="4.6" height="4.6" fill="none" stroke="#ff0000" stroke-width="1.6"/>
<rect x="202.3" y="399.4" width="4.6" height="4.6" fill="none" stroke="#ff0000" stroke-width="1.6"/>
<rect x="185.5" y="407.9" width="4.6" height="4.6" fill="none" stroke="#ff0000" stroke-width="1.6"/>
<rect x="216.9" y="381.3" width="4.6" height="4.6" fill="none" stroke="#ff0000" stroke-width="1.6"/>
<rect x="196.3" y="406.5" width="4.6" height="4.6" fill="none" stroke="#ff0000" stroke-width="1.6"/>
<rect x="176.7" y="417.3" width="4.6" height="4.6" fill="none" stroke="#ff0000" stroke-width="1.6"/>
<rect x="216.1" y="385.6" width="4.6" height="4.6" fill="none" stroke="#ff0000" stroke-width="1.6"/>
<rect x="197.6" y="402.0" width="4.6" height="4.6" fill="none" stroke="#ff0000" stroke-width="1.6"/>
<rect x="177.0" y="415.3" width="4.6" height="4.6" fill="none" stroke="#ff0000" stroke-width="1.6"/>
<rect x="193.8" y="404.7" width="4.6" height="4.6" fill="none" stroke="#ff0000" stroke-width="1.6"/>
<rect x="189.2" y="405.8" width="4.6" height="4.6" fill="none" stroke="#ff0000" stroke-width="1.6"/>
<rect x="175.5" y="415.8" width="4.6" height="4.6" fill="none" stroke="#ff0000" stroke-width="1.6"/>
<rect x="243.0" y="355.8" width="4.6" height="4.6" fill="none" stroke="#ff0000" stroke-width="1.6"/>
<rect x="205.3" y="405.3" width="4.6" height="4.6" fill="none" stroke="#ff0000" stroke-width="1.6"/>
<rect x="419.0" y="405.3" width="4.6" height="4.6" fill="none" stroke="#ff0000" stroke-width="1.6"/>
</g><g>
<circle cx="75.5" cy="474.6" r="2.4" fill="none" stroke="#29abe2" stroke-width="2.0"/>
<circle cx="87.5" cy="463.2" r="2.4" fill="none" stroke="#29abe2" stroke-width="2.0"/>
<circle cx="89.4" cy="454.0" r="2.4" fill="none" stroke="#29abe2" stroke-width="2.0"/>
<circle cx="90.5" cy="457.4" r="2.4" fill="none" stroke="#29abe2" stroke-width="2.0"/>
<circle cx="96.4" cy="458.9" r="2.4" fill="none" stroke="#29abe2" stroke-width="2.0"/>
<circle cx="102.7" cy="452.8" r="2.4" fill="none" stroke="#29abe2" stroke-width="2.0"/>
<circle cx="110.3" cy="447.8" r="2.4" fill="none" stroke="#29abe2" stroke-width="2.0"/>
<circle cx="93.0" cy="458.0" r="2.4" fill="none" stroke="#29abe2" stroke-width="2.0"/>
<circle cx="110.6" cy="434.2" r="2.4" fill="none" stroke="#29abe2" stroke-width="2.0"/>
<circle cx="124.5" cy="436.4" r="2.4" fill="none" stroke="#29abe2" stroke-width="2.0"/>
<circle cx="129.5" cy="432.3" r="2.4" fill="none" stroke="#29abe2" stroke-width="2.0"/>
<circle cx="130.8" cy="418.7" r="2.4" fill="none" stroke="#29abe2" stroke-width="2.0"/>
<circle cx="138.4" cy="415.8" r="2.4" fill="none" stroke="#29abe2" stroke-width="2.0"/>
<circle cx="143.5" cy="418.6" r="2.4" fill="none" stroke="#29abe2" stroke-width="2.0"/>
<circle cx="153.1" cy="415.2" r="2.4" fill="none" stroke="#29abe2" stroke-width="2.0"/>
<circle cx="155.4" cy="406.8" r="2.4" fill="none" stroke="#29abe2" stroke-width="2.0"/>
<circle cx="152.0" cy="415.0" r="2.4" fill="none" stroke="#29abe2" stroke-width="2.0"/>
<circle cx="147.5" cy="412.4" r="2.4" fill="none" stroke="#29abe2" stroke-width="2.0"/>
<circle cx="97.5" cy="448.2" r="2.4" fill="none" stroke="#29abe2" stroke-width="2.0"/>
<circle cx="94.4" cy="451.1" r="2.4" fill="none" stroke="#29abe2" stroke-width="2.0"/>
<circle cx="100.2" cy="444.3" r="2.4" fill="none" stroke="#29abe2" stroke-width="2.0"/>
<circle cx="99.8" cy="445.4" r="2.4" fill="none" stroke="#29abe2" stroke-width="2.0"/>
<circle cx="94.0" cy="448.8" r="2.4" fill="none" stroke="#29abe2" stroke-width="2.0"/>
<circle cx="94.6" cy="449.1" r="2.4" fill="none" stroke="#29abe2" stroke-width="2.0"/>
<circle cx="98.8" cy="446.1" r="2.4" fill="none" stroke="#29abe2" stroke-width="2.0"/>
<circle cx="96.3" cy="446.8" r="2.4" fill="none" stroke="#29abe2" stroke-width="2.0"/>
<circle cx="101.3" cy="446.0" r="2.4" fill="none" stroke="#29abe2" stroke-width="2.0"/>
<circle cx="98.5" cy="445.2" r="2.4" fill="none" stroke="#29abe2" stroke-width="2.0"/>
<circle cx="105.7" cy="443.9" r="2.4" fill="none" stroke="#29abe2" stroke-width="2.0"/>
<circle cx="97.1" cy="448.0" r="2.4" fill="none" stroke="#29abe2" stroke-width="2.0"/>
<circle cx="95.3" cy="449.5" r="2.4" fill="none" stroke="#29abe2" stroke-width="2.0"/>
<circle cx="103.7" cy="443.1" r="2.4" fill="none" stroke="#29abe2" stroke-width="2.0"/>
<circle cx="95.8" cy="445.8" r="2.4" fill="none" stroke="#29abe2" stroke-width="2.0"/>
<circle cx="98.2" cy="450.0" r="2.4" fill="none" stroke="#29abe2" stroke-width="2.0"/>
<circle cx="100.3" cy="449.7" r="2.4" fill="none" stroke="#29abe2" stroke-width="2.0"/>
<circle cx="96.1" cy="452.7" r="2.4" fill="none" stroke="#29abe2" stroke-width="2.0"/>
<circle cx="102.0" cy="447.0" r="2.4" fill="none" stroke="#29abe2" stroke-width="2.0"/>
<circle cx="100.8" cy="449.5" r="2.4" fill="none" stroke="#29abe2" stroke-width="2.0"/>
<circle cx="122.7" cy="433.0" r="2.4" fill="none" stroke="#29abe2" stroke-width="2.0"/>
<circle cx="114.5" cy="433.8" r="2.4" fill="none" stroke="#29abe2" stroke-width="2.0"/>
<circle cx="125.5" cy="429.4" r="2.4" fill="none" stroke="#29abe2" stroke-width="2.0"/>
<circle cx="121.3" cy="430.5" r="2.4" fill="none" stroke="#29abe2" stroke-width="2.0"/>
<circle cx="110.9" cy="444.7" r="2.4" fill="none" stroke="#29abe2" stroke-width="2.0"/>
<circle cx="134.8" cy="423.7" r="2.4" fill="none" stroke="#29abe2" stroke-width="2.0"/>
<circle cx="139.1" cy="418.2" r="2.4" fill="none" stroke="#29abe2" stroke-width="2.0"/>
<circle cx="127.6" cy="424.5" r="2.4" fill="none" stroke="#29abe2" stroke-width="2.0"/>
<circle cx="137.8" cy="416.4" r="2.4" fill="none" stroke="#29abe2" stroke-width="2.0"/>
<circle cx="107.4" cy="444.0" r="2.4" fill="none" stroke="#29abe2" stroke-width="2.0"/>
<circle cx="130.2" cy="427.1" r="2.4" fill="none" stroke="#29abe2" stroke-width="2.0"/>
<circle cx="120.0" cy="431.7" r="2.4" fill="none" stroke="#29abe2" stroke-width="2.0"/>
<circle cx="105.9" cy="445.1" r="2.4" fill="none" stroke="#29abe2" stroke-width="2.0"/>
<circle cx="107.3" cy="444.6" r="2.4" fill="none" stroke="#29abe2" stroke-width="2.0"/>
<circle cx="110.0" cy="436.9" r="2.4" fill="none" stroke="#29abe2" stroke-width="2.0"/>
<circle cx="108.1" cy="446.3" r="2.4" fill="none" stroke="#29abe2" stroke-width="2.0"/>
<circle cx="126.4" cy="431.3" r="2.4" fill="none" stroke="#29abe2" stroke-width="2.0"/>
<circle cx="115.9" cy="431.9" r="2.4" fill="none" stroke="#29abe2" stroke-width="2.0"/>
<circle cx="119.0" cy="436.1" r="2.4" fill="none" stroke="#29abe2" stroke-width="2.0"/>
<circle cx="111.9" cy="439.5" r="2.4" fill="none" stroke="#29abe2" stroke-width="2.0"/>
<circle cx="114.1" cy="436.4" r="2.4" fill="none" stroke="#29abe2" stroke-width="2.0"/>
<circle cx="105.2" cy="443.8" r="2.4" fill="none" stroke="#29abe2" stroke-width="2.0"/>
<circle cx="119.4" cy="438.4" r="2.4" fill="none" stroke="#29abe2" stroke-width="2.0"/>
<circle cx="125.1" cy="428.7" r="2.4" fill="none" stroke="#29abe2" stroke-width="2.0"/>
<circle cx="131.4" cy="429.2" r="2.4" fill="none" stroke="#29abe2" stroke-width="2.0"/>
<circle cx="139.1" cy="416.6" r="2.4" fill="none" stroke="#29abe2" stroke-width="2.0"/>
<circle cx="120.3" cy="436.7" r="2.4" fill="none" stroke="#29abe2" stroke-width="2.0"/>
<circle cx="107.4" cy="445.7" r="2.4" fill="none" stroke="#29abe2" stroke-width="2.0"/>
<circle cx="113.1" cy="438.5" r="2.4" fill="none" stroke="#29abe2" stroke-width="2.0"/>
<circle cx="105.0" cy="445.9" r="2.4" fill="none" stroke="#29abe2" stroke-width="2.0"/>
<circle cx="109.0" cy="447.7" r="2.4" fill="none" stroke="#29abe2" stroke-width="2.0"/>
<circle cx="128.9" cy="428.0" r="2.4" fill="none" stroke="#29abe2" stroke-width="2.0"/>
<circle cx="114.8" cy="436.8" r="2.4" fill="none" stroke="#29abe2" stroke-width="2.0"/>
<circle cx="138.1" cy="421.3" r="2.4" fill="none" stroke="#29abe2" stroke-width="2.0"/>
<circle cx="123.2" cy="432.5" r="2.4" fill="none" stroke="#29abe2" stroke-width="2.0"/>
<circle cx="118.4" cy="435.7" r="2.4" fill="none" stroke="#29abe2" stroke-width="2.0"/>
<circle cx="105.9" cy="442.9" r="2.4" fill="none" stroke="#29abe2" stroke-width="2.0"/>
<circle cx="126.2" cy="428.9" r="2.4" fill="none" stroke="#29abe2" stroke-width="2.0"/>
<circle cx="125.6" cy="432.4" r="2.4" fill="none" stroke="#29abe2" stroke-width="2.0"/>
<circle cx="115.2" cy="434.2" r="2.4" fill="none" stroke="#29abe2" stroke-width="2.0"/>
<circle cx="111.5" cy="435.4" r="2.4" fill="none" stroke="#29abe2" stroke-width="2.0"/>
<circle cx="117.9" cy="434.4" r="2.4" fill="none" stroke="#29abe2" stroke-width="2.0"/>
<circle cx="136.6" cy="424.3" r="2.4" fill="none" stroke="#29abe2" stroke-width="2.0"/>
<circle cx="136.9" cy="417.0" r="2.4" fill="none" stroke="#29abe2" stroke-width="2.0"/>
<circle cx="113.8" cy="438.0" r="2.4" fill="none" stroke="#29abe2" stroke-width="2.0"/>
<circle cx="106.1" cy="444.8" r="2.4" fill="none" stroke="#29abe2" stroke-width="2.0"/>
<circle cx="115.1" cy="440.4" r="2.4" fill="none" stroke="#29abe2" stroke-width="2.0"/>
<circle cx="141.5" cy="416.8" r="2.4" fill="none" stroke="#29abe2" stroke-width="2.0"/>
<circle cx="142.2" cy="417.5" r="2.4" fill="none" stroke="#29abe2" stroke-width="2.0"/>
<circle cx="112.7" cy="441.3" r="2.4" fill="none" stroke="#29abe2" stroke-width="2.0"/>
<circle cx="129.3" cy="428.5" r="2.4" fill="none" stroke="#29abe2" stroke-width="2.0"/>
<circle cx="130.5" cy="423.3" r="2.4" fill="none" stroke="#29abe2" stroke-width="2.0"/>
<circle cx="108.3" cy="446.7" r="2.4" fill="none" stroke="#29abe2" stroke-width="2.0"/>
<circle cx="134.3" cy="420.5" r="2.4" fill="none" stroke="#29abe2" stroke-width="2.0"/>
<circle cx="112.0" cy="437.4" r="2.4" fill="none" stroke="#29abe2" stroke-width="2.0"/>
</g>
<line x1="76.1" y1="474.4" x2="154.7" y2="401.2" stroke="#000" stroke-width="1.7" stroke-dasharray="6.5 7.7" stroke-linecap="butt"/>
<line x1="75.9" y1="480.7" x2="154.0" y2="400.1" stroke="#000" stroke-width="1.8" stroke-dasharray="0.01 5.1" stroke-linecap="round"/>
<line x1="75.8" y1="467.4" x2="155.2" y2="407.7" stroke="#0000ff" stroke-width="1.8" stroke-linecap="butt"/>
<line x1="153.5" y1="441.8" x2="241.1" y2="376.6" stroke="#000" stroke-width="1.7" stroke-dasharray="6.5 7.7" stroke-linecap="butt"/>
<line x1="153.5" y1="444.0" x2="244.3" y2="377.2" stroke="#000" stroke-width="1.8" stroke-dasharray="0.01 5.1" stroke-linecap="round"/>
<line x1="153.5" y1="440.8" x2="246.4" y2="366.8" stroke="#8a00c8" stroke-width="1.8" stroke-linecap="butt"/>
<path d="M163.9 398.3L167.8 394.6L171.7 398.3L167.8 402.0Z" fill="none" stroke="#0000ff" stroke-width="1.9"/>
<path d="M174.0 384.5L177.9 380.8L181.8 384.5L177.9 388.2Z" fill="none" stroke="#0000ff" stroke-width="1.9"/>
<path d="M216.9 479.8V483.8M215.7 479.8h2.4M215.7 483.8h2.4" stroke="#29abe2" stroke-width="1.5" fill="none"/>
<path d="M225.3 479.2V484.2M224.1 479.2h2.4M224.1 484.2h2.4" stroke="#ff0000" stroke-width="1.5" fill="none"/>
<g>
<rect x="364.4" y="443.5" width="4.6" height="4.6" fill="none" stroke="#ff0000" stroke-width="1.6"/>
<rect x="366.4" y="438.0" width="4.6" height="4.6" fill="none" stroke="#ff0000" stroke-width="1.6"/>
<rect x="368.4" y="438.7" width="4.6" height="4.6" fill="none" stroke="#ff0000" stroke-width="1.6"/>
<rect x="371.4" y="428.7" width="4.6" height="4.6" fill="none" stroke="#ff0000" stroke-width="1.6"/>
<rect x="372.7" y="437.2" width="4.6" height="4.6" fill="none" stroke="#ff0000" stroke-width="1.6"/>
<rect x="375.9" y="426.1" width="4.6" height="4.6" fill="none" stroke="#ff0000" stroke-width="1.6"/>
<rect x="374.4" y="433.6" width="4.6" height="4.6" fill="none" stroke="#ff0000" stroke-width="1.6"/>
<rect x="377.4" y="430.2" width="4.6" height="4.6" fill="none" stroke="#ff0000" stroke-width="1.6"/>
<rect x="379.9" y="430.5" width="4.6" height="4.6" fill="none" stroke="#ff0000" stroke-width="1.6"/>
<rect x="386.6" y="427.5" width="4.6" height="4.6" fill="none" stroke="#ff0000" stroke-width="1.6"/>
<rect x="389.8" y="424.6" width="4.6" height="4.6" fill="none" stroke="#ff0000" stroke-width="1.6"/>
<rect x="396.7" y="418.8" width="4.6" height="4.6" fill="none" stroke="#ff0000" stroke-width="1.6"/>
<rect x="382.4" y="427.5" width="4.6" height="4.6" fill="none" stroke="#ff0000" stroke-width="1.6"/>
<rect x="384.4" y="427.3" width="4.6" height="4.6" fill="none" stroke="#ff0000" stroke-width="1.6"/>
<rect x="423.7" y="387.0" width="4.6" height="4.6" fill="none" stroke="#ff0000" stroke-width="1.6"/>
<rect x="429.4" y="390.1" width="4.6" height="4.6" fill="none" stroke="#ff0000" stroke-width="1.6"/>
<rect x="432.2" y="382.6" width="4.6" height="4.6" fill="none" stroke="#ff0000" stroke-width="1.6"/>
<rect x="434.2" y="384.9" width="4.6" height="4.6" fill="none" stroke="#ff0000" stroke-width="1.6"/>
<rect x="436.4" y="382.5" width="4.6" height="4.6" fill="none" stroke="#ff0000" stroke-width="1.6"/>
<rect x="439.2" y="387.9" width="4.6" height="4.6" fill="none" stroke="#ff0000" stroke-width="1.6"/>
<rect x="440.4" y="380.3" width="4.6" height="4.6" fill="none" stroke="#ff0000" stroke-width="1.6"/>
<rect x="442.3" y="376.5" width="4.6" height="4.6" fill="none" stroke="#ff0000" stroke-width="1.6"/>
<rect x="443.7" y="380.0" width="4.6" height="4.6" fill="none" stroke="#ff0000" stroke-width="1.6"/>
<rect x="448.1" y="375.2" width="4.6" height="4.6" fill="none" stroke="#ff0000" stroke-width="1.6"/>
<rect x="458.1" y="369.5" width="4.6" height="4.6" fill="none" stroke="#ff0000" stroke-width="1.6"/>
<rect x="425.2" y="391.6" width="4.6" height="4.6" fill="none" stroke="#ff0000" stroke-width="1.6"/>
<rect x="400.9" y="404.2" width="4.6" height="4.6" fill="none" stroke="#ff0000" stroke-width="1.6"/>
<rect x="423.1" y="390.8" width="4.6" height="4.6" fill="none" stroke="#ff0000" stroke-width="1.6"/>
<rect x="395.0" y="413.2" width="4.6" height="4.6" fill="none" stroke="#ff0000" stroke-width="1.6"/>
<rect x="409.1" y="405.0" width="4.6" height="4.6" fill="none" stroke="#ff0000" stroke-width="1.6"/>
<rect x="389.1" y="419.3" width="4.6" height="4.6" fill="none" stroke="#ff0000" stroke-width="1.6"/>
<rect x="424.2" y="393.5" width="4.6" height="4.6" fill="none" stroke="#ff0000" stroke-width="1.6"/>
<rect x="400.9" y="406.1" width="4.6" height="4.6" fill="none" stroke="#ff0000" stroke-width="1.6"/>
<rect x="417.7" y="395.4" width="4.6" height="4.6" fill="none" stroke="#ff0000" stroke-width="1.6"/>
<rect x="405.1" y="407.9" width="4.6" height="4.6" fill="none" stroke="#ff0000" stroke-width="1.6"/>
<rect x="399.7" y="405.2" width="4.6" height="4.6" fill="none" stroke="#ff0000" stroke-width="1.6"/>
<rect x="398.0" y="406.5" width="4.6" height="4.6" fill="none" stroke="#ff0000" stroke-width="1.6"/>
<rect x="414.9" y="397.9" width="4.6" height="4.6" fill="none" stroke="#ff0000" stroke-width="1.6"/>
<rect x="394.8" y="412.3" width="4.6" height="4.6" fill="none" stroke="#ff0000" stroke-width="1.6"/>
<rect x="415.1" y="397.2" width="4.6" height="4.6" fill="none" stroke="#ff0000" stroke-width="1.6"/>
<rect x="422.0" y="391.7" width="4.6" height="4.6" fill="none" stroke="#ff0000" stroke-width="1.6"/>
<rect x="418.0" y="398.3" width="4.6" height="4.6" fill="none" stroke="#ff0000" stroke-width="1.6"/>
<rect x="425.9" y="387.3" width="4.6" height="4.6" fill="none" stroke="#ff0000" stroke-width="1.6"/>
<rect x="415.7" y="392.4" width="4.6" height="4.6" fill="none" stroke="#ff0000" stroke-width="1.6"/>
<rect x="388.2" y="414.3" width="4.6" height="4.6" fill="none" stroke="#ff0000" stroke-width="1.6"/>
<rect x="418.4" y="391.7" width="4.6" height="4.6" fill="none" stroke="#ff0000" stroke-width="1.6"/>
<rect x="403.2" y="405.6" width="4.6" height="4.6" fill="none" stroke="#ff0000" stroke-width="1.6"/>
<rect x="403.0" y="404.8" width="4.6" height="4.6" fill="none" stroke="#ff0000" stroke-width="1.6"/>
<rect x="406.7" y="407.5" width="4.6" height="4.6" fill="none" stroke="#ff0000" stroke-width="1.6"/>
<rect x="404.0" y="406.6" width="4.6" height="4.6" fill="none" stroke="#ff0000" stroke-width="1.6"/>
<rect x="417.4" y="394.8" width="4.6" height="4.6" fill="none" stroke="#ff0000" stroke-width="1.6"/>
<rect x="385.8" y="417.9" width="4.6" height="4.6" fill="none" stroke="#ff0000" stroke-width="1.6"/>
<rect x="418.4" y="390.7" width="4.6" height="4.6" fill="none" stroke="#ff0000" stroke-width="1.6"/>
<rect x="395.0" y="414.5" width="4.6" height="4.6" fill="none" stroke="#ff0000" stroke-width="1.6"/>
<rect x="414.5" y="397.5" width="4.6" height="4.6" fill="none" stroke="#ff0000" stroke-width="1.6"/>
<rect x="414.7" y="397.7" width="4.6" height="4.6" fill="none" stroke="#ff0000" stroke-width="1.6"/>
<rect x="386.9" y="415.4" width="4.6" height="4.6" fill="none" stroke="#ff0000" stroke-width="1.6"/>
<rect x="394.5" y="414.8" width="4.6" height="4.6" fill="none" stroke="#ff0000" stroke-width="1.6"/>
<rect x="395.5" y="409.8" width="4.6" height="4.6" fill="none" stroke="#ff0000" stroke-width="1.6"/>
<rect x="392.6" y="410.8" width="4.6" height="4.6" fill="none" stroke="#ff0000" stroke-width="1.6"/>
<rect x="401.8" y="404.4" width="4.6" height="4.6" fill="none" stroke="#ff0000" stroke-width="1.6"/>
<rect x="408.5" y="398.2" width="4.6" height="4.6" fill="none" stroke="#ff0000" stroke-width="1.6"/>
<rect x="408.0" y="400.9" width="4.6" height="4.6" fill="none" stroke="#ff0000" stroke-width="1.6"/>
<rect x="413.5" y="397.6" width="4.6" height="4.6" fill="none" stroke="#ff0000" stroke-width="1.6"/>
<rect x="391.1" y="415.8" width="4.6" height="4.6" fill="none" stroke="#ff0000" stroke-width="1.6"/>
<rect x="397.0" y="412.5" width="4.6" height="4.6" fill="none" stroke="#ff0000" stroke-width="1.6"/>
<rect x="413.9" y="399.5" width="4.6" height="4.6" fill="none" stroke="#ff0000" stroke-width="1.6"/>
<rect x="408.0" y="405.5" width="4.6" height="4.6" fill="none" stroke="#ff0000" stroke-width="1.6"/>
<rect x="412.6" y="399.9" width="4.6" height="4.6" fill="none" stroke="#ff0000" stroke-width="1.6"/>
<rect x="416.0" y="399.4" width="4.6" height="4.6" fill="none" stroke="#ff0000" stroke-width="1.6"/>
<rect x="399.2" y="407.9" width="4.6" height="4.6" fill="none" stroke="#ff0000" stroke-width="1.6"/>
<rect x="430.6" y="381.3" width="4.6" height="4.6" fill="none" stroke="#ff0000" stroke-width="1.6"/>
<rect x="410.0" y="406.5" width="4.6" height="4.6" fill="none" stroke="#ff0000" stroke-width="1.6"/>
<rect x="390.4" y="417.3" width="4.6" height="4.6" fill="none" stroke="#ff0000" stroke-width="1.6"/>
<rect x="429.8" y="385.6" width="4.6" height="4.6" fill="none" stroke="#ff0000" stroke-width="1.6"/>
<rect x="411.3" y="402.0" width="4.6" height="4.6" fill="none" stroke="#ff0000" stroke-width="1.6"/>
<rect x="390.7" y="415.3" width="4.6" height="4.6" fill="none" stroke="#ff0000" stroke-width="1.6"/>
<rect x="407.5" y="404.7" width="4.6" height="4.6" fill="none" stroke="#ff0000" stroke-width="1.6"/>
<rect x="402.9" y="405.8" width="4.6" height="4.6" fill="none" stroke="#ff0000" stroke-width="1.6"/>
<rect x="389.2" y="415.8" width="4.6" height="4.6" fill="none" stroke="#ff0000" stroke-width="1.6"/>
</g><g>
<circle cx="325.4" cy="474.6" r="2.15" fill="none" stroke="#29abe2" stroke-width="2.0"/>
<circle cx="337.4" cy="463.2" r="2.15" fill="none" stroke="#29abe2" stroke-width="2.0"/>
<circle cx="339.3" cy="454.0" r="2.15" fill="none" stroke="#29abe2" stroke-width="2.0"/>
<circle cx="340.4" cy="457.4" r="2.15" fill="none" stroke="#29abe2" stroke-width="2.0"/>
<circle cx="346.3" cy="458.9" r="2.15" fill="none" stroke="#29abe2" stroke-width="2.0"/>
<circle cx="352.6" cy="452.8" r="2.15" fill="none" stroke="#29abe2" stroke-width="2.0"/>
<circle cx="360.2" cy="447.8" r="2.15" fill="none" stroke="#29abe2" stroke-width="2.0"/>
<circle cx="342.9" cy="458.0" r="2.15" fill="none" stroke="#29abe2" stroke-width="2.0"/>
<circle cx="360.5" cy="434.2" r="2.15" fill="none" stroke="#29abe2" stroke-width="2.0"/>
<circle cx="374.4" cy="436.4" r="2.15" fill="none" stroke="#29abe2" stroke-width="2.0"/>
<circle cx="379.4" cy="432.3" r="2.15" fill="none" stroke="#29abe2" stroke-width="2.0"/>
<circle cx="380.7" cy="418.7" r="2.15" fill="none" stroke="#29abe2" stroke-width="2.0"/>
<circle cx="388.3" cy="415.8" r="2.15" fill="none" stroke="#29abe2" stroke-width="2.0"/>
<circle cx="393.4" cy="418.6" r="2.15" fill="none" stroke="#29abe2" stroke-width="2.0"/>
<circle cx="403.0" cy="415.2" r="2.15" fill="none" stroke="#29abe2" stroke-width="2.0"/>
<circle cx="405.3" cy="406.8" r="2.15" fill="none" stroke="#29abe2" stroke-width="2.0"/>
<circle cx="401.9" cy="415.0" r="2.15" fill="none" stroke="#29abe2" stroke-width="2.0"/>
<circle cx="397.4" cy="412.4" r="2.15" fill="none" stroke="#29abe2" stroke-width="2.0"/>
<circle cx="347.4" cy="448.2" r="2.15" fill="none" stroke="#29abe2" stroke-width="2.0"/>
<circle cx="344.3" cy="451.1" r="2.15" fill="none" stroke="#29abe2" stroke-width="2.0"/>
<circle cx="350.1" cy="444.3" r="2.15" fill="none" stroke="#29abe2" stroke-width="2.0"/>
<circle cx="349.7" cy="445.4" r="2.15" fill="none" stroke="#29abe2" stroke-width="2.0"/>
<circle cx="343.8" cy="448.8" r="2.15" fill="none" stroke="#29abe2" stroke-width="2.0"/>
<circle cx="344.5" cy="449.1" r="2.15" fill="none" stroke="#29abe2" stroke-width="2.0"/>
<circle cx="348.7" cy="446.1" r="2.15" fill="none" stroke="#29abe2" stroke-width="2.0"/>
<circle cx="346.1" cy="446.8" r="2.15" fill="none" stroke="#29abe2" stroke-width="2.0"/>
<circle cx="351.2" cy="446.0" r="2.15" fill="none" stroke="#29abe2" stroke-width="2.0"/>
<circle cx="348.3" cy="445.2" r="2.15" fill="none" stroke="#29abe2" stroke-width="2.0"/>
<circle cx="355.6" cy="443.9" r="2.15" fill="none" stroke="#29abe2" stroke-width="2.0"/>
<circle cx="347.0" cy="448.0" r="2.15" fill="none" stroke="#29abe2" stroke-width="2.0"/>
<circle cx="345.2" cy="449.5" r="2.15" fill="none" stroke="#29abe2" stroke-width="2.0"/>
<circle cx="353.6" cy="443.1" r="2.15" fill="none" stroke="#29abe2" stroke-width="2.0"/>
<circle cx="345.6" cy="445.8" r="2.15" fill="none" stroke="#29abe2" stroke-width="2.0"/>
<circle cx="348.0" cy="450.0" r="2.15" fill="none" stroke="#29abe2" stroke-width="2.0"/>
<circle cx="350.2" cy="449.7" r="2.15" fill="none" stroke="#29abe2" stroke-width="2.0"/>
<circle cx="345.9" cy="452.7" r="2.15" fill="none" stroke="#29abe2" stroke-width="2.0"/>
<circle cx="351.9" cy="447.0" r="2.15" fill="none" stroke="#29abe2" stroke-width="2.0"/>
<circle cx="350.7" cy="449.5" r="2.15" fill="none" stroke="#29abe2" stroke-width="2.0"/>
<circle cx="372.5" cy="433.0" r="2.15" fill="none" stroke="#29abe2" stroke-width="2.0"/>
<circle cx="364.4" cy="433.8" r="2.15" fill="none" stroke="#29abe2" stroke-width="2.0"/>
<circle cx="375.3" cy="429.4" r="2.15" fill="none" stroke="#29abe2" stroke-width="2.0"/>
<circle cx="371.2" cy="430.5" r="2.15" fill="none" stroke="#29abe2" stroke-width="2.0"/>
<circle cx="360.8" cy="444.7" r="2.15" fill="none" stroke="#29abe2" stroke-width="2.0"/>
<circle cx="384.7" cy="423.7" r="2.15" fill="none" stroke="#29abe2" stroke-width="2.0"/>
<circle cx="389.0" cy="418.2" r="2.15" fill="none" stroke="#29abe2" stroke-width="2.0"/>
<circle cx="377.5" cy="424.5" r="2.15" fill="none" stroke="#29abe2" stroke-width="2.0"/>
<circle cx="387.6" cy="416.4" r="2.15" fill="none" stroke="#29abe2" stroke-width="2.0"/>
<circle cx="357.2" cy="444.0" r="2.15" fill="none" stroke="#29abe2" stroke-width="2.0"/>
<circle cx="380.1" cy="427.1" r="2.15" fill="none" stroke="#29abe2" stroke-width="2.0"/>
<circle cx="369.9" cy="431.7" r="2.15" fill="none" stroke="#29abe2" stroke-width="2.0"/>
<circle cx="355.7" cy="445.1" r="2.15" fill="none" stroke="#29abe2" stroke-width="2.0"/>
<circle cx="357.2" cy="444.6" r="2.15" fill="none" stroke="#29abe2" stroke-width="2.0"/>
<circle cx="359.9" cy="436.9" r="2.15" fill="none" stroke="#29abe2" stroke-width="2.0"/>
<circle cx="358.0" cy="446.3" r="2.15" fill="none" stroke="#29abe2" stroke-width="2.0"/>
<circle cx="376.3" cy="431.3" r="2.15" fill="none" stroke="#29abe2" stroke-width="2.0"/>
<circle cx="365.7" cy="431.9" r="2.15" fill="none" stroke="#29abe2" stroke-width="2.0"/>
<circle cx="368.8" cy="436.1" r="2.15" fill="none" stroke="#29abe2" stroke-width="2.0"/>
<circle cx="361.7" cy="439.5" r="2.15" fill="none" stroke="#29abe2" stroke-width="2.0"/>
<circle cx="364.0" cy="436.4" r="2.15" fill="none" stroke="#29abe2" stroke-width="2.0"/>
<circle cx="355.0" cy="443.8" r="2.15" fill="none" stroke="#29abe2" stroke-width="2.0"/>
<circle cx="369.3" cy="438.4" r="2.15" fill="none" stroke="#29abe2" stroke-width="2.0"/>
<circle cx="375.0" cy="428.7" r="2.15" fill="none" stroke="#29abe2" stroke-width="2.0"/>
<circle cx="381.2" cy="429.2" r="2.15" fill="none" stroke="#29abe2" stroke-width="2.0"/>
<circle cx="389.0" cy="416.6" r="2.15" fill="none" stroke="#29abe2" stroke-width="2.0"/>
<circle cx="370.2" cy="436.7" r="2.15" fill="none" stroke="#29abe2" stroke-width="2.0"/>
<circle cx="357.3" cy="445.7" r="2.15" fill="none" stroke="#29abe2" stroke-width="2.0"/>
<circle cx="363.0" cy="438.5" r="2.15" fill="none" stroke="#29abe2" stroke-width="2.0"/>
<circle cx="354.9" cy="445.9" r="2.15" fill="none" stroke="#29abe2" stroke-width="2.0"/>
<circle cx="358.8" cy="447.7" r="2.15" fill="none" stroke="#29abe2" stroke-width="2.0"/>
<circle cx="378.8" cy="428.0" r="2.15" fill="none" stroke="#29abe2" stroke-width="2.0"/>
<circle cx="364.7" cy="436.8" r="2.15" fill="none" stroke="#29abe2" stroke-width="2.0"/>
<circle cx="388.0" cy="421.3" r="2.15" fill="none" stroke="#29abe2" stroke-width="2.0"/>
<circle cx="373.0" cy="432.5" r="2.15" fill="none" stroke="#29abe2" stroke-width="2.0"/>
<circle cx="368.2" cy="435.7" r="2.15" fill="none" stroke="#29abe2" stroke-width="2.0"/>
<circle cx="355.8" cy="442.9" r="2.15" fill="none" stroke="#29abe2" stroke-width="2.0"/>
<circle cx="376.0" cy="428.9" r="2.15" fill="none" stroke="#29abe2" stroke-width="2.0"/>
<circle cx="375.5" cy="432.4" r="2.15" fill="none" stroke="#29abe2" stroke-width="2.0"/>
<circle cx="365.0" cy="434.2" r="2.15" fill="none" stroke="#29abe2" stroke-width="2.0"/>
<circle cx="361.4" cy="435.4" r="2.15" fill="none" stroke="#29abe2" stroke-width="2.0"/>
<circle cx="367.7" cy="434.4" r="2.15" fill="none" stroke="#29abe2" stroke-width="2.0"/>
<circle cx="386.5" cy="424.3" r="2.15" fill="none" stroke="#29abe2" stroke-width="2.0"/>
<circle cx="386.8" cy="417.0" r="2.15" fill="none" stroke="#29abe2" stroke-width="2.0"/>
<circle cx="363.7" cy="438.0" r="2.15" fill="none" stroke="#29abe2" stroke-width="2.0"/>
<circle cx="355.9" cy="444.8" r="2.15" fill="none" stroke="#29abe2" stroke-width="2.0"/>
<circle cx="365.0" cy="440.4" r="2.15" fill="none" stroke="#29abe2" stroke-width="2.0"/>
<circle cx="391.4" cy="416.8" r="2.15" fill="none" stroke="#29abe2" stroke-width="2.0"/>
<circle cx="392.1" cy="417.5" r="2.15" fill="none" stroke="#29abe2" stroke-width="2.0"/>
<circle cx="362.5" cy="441.3" r="2.15" fill="none" stroke="#29abe2" stroke-width="2.0"/>
<circle cx="379.2" cy="428.5" r="2.15" fill="none" stroke="#29abe2" stroke-width="2.0"/>
<circle cx="380.3" cy="423.3" r="2.15" fill="none" stroke="#29abe2" stroke-width="2.0"/>
<circle cx="358.2" cy="446.7" r="2.15" fill="none" stroke="#29abe2" stroke-width="2.0"/>
<circle cx="384.1" cy="420.5" r="2.15" fill="none" stroke="#29abe2" stroke-width="2.0"/>
<circle cx="361.8" cy="437.4" r="2.15" fill="none" stroke="#29abe2" stroke-width="2.0"/>
</g>
<line x1="326.0" y1="470.1" x2="460.0" y2="374.0" stroke="#000" stroke-width="1.8" stroke-dasharray="0.01 5.1" stroke-linecap="round"/>
<line x1="325.8" y1="466.3" x2="460.8" y2="372.0" stroke="#000" stroke-width="1.7" stroke-dasharray="12 3.3" stroke-linecap="butt"/>
<line x1="325.8" y1="465.7" x2="460.8" y2="371.4" stroke="#000" stroke-width="1.8" stroke-linecap="butt"/>
<path d="M430.5 479.5V483.9M429.3 479.5h2.4M429.3 483.9h2.4" stroke="#000" stroke-width="1.4" fill="none"/>
<g stroke="#000" stroke-width="1.9" fill="none" stroke-linecap="square">
<line x1="45.9" y1="0.7" x2="472.9" y2="0.7"/>
<line x1="45.9" y1="164.8" x2="472.9" y2="164.8"/>
<line x1="45.9" y1="328.4" x2="472.9" y2="328.4"/>
<line x1="45.9" y1="492.1" x2="472.9" y2="492.1"/>
<line x1="45.9" y1="0.7" x2="45.9" y2="492.1"/>
<line x1="259.7" y1="0.7" x2="259.7" y2="492.1"/>
<line x1="472.9" y1="0.7" x2="472.9" y2="492.1"/>
</g>
<g stroke="#000" stroke-width="1.6">
<line x1="45.9" y1="51.6" x2="50.1" y2="51.6"/>
<line x1="255.5" y1="51.6" x2="263.9" y2="51.6"/>
<line x1="468.7" y1="51.6" x2="472.9" y2="51.6"/>
<line x1="45.9" y1="102.8" x2="50.1" y2="102.8"/>
<line x1="255.5" y1="102.8" x2="263.9" y2="102.8"/>
<line x1="468.7" y1="102.8" x2="472.9" y2="102.8"/>
<line x1="45.9" y1="154.0" x2="50.1" y2="154.0"/>
<line x1="255.5" y1="154.0" x2="263.9" y2="154.0"/>
<line x1="468.7" y1="154.0" x2="472.9" y2="154.0"/>
<line x1="45.9" y1="26.0" x2="48.1" y2="26.0"/>
<line x1="257.5" y1="26.0" x2="261.9" y2="26.0"/>
<line x1="470.7" y1="26.0" x2="472.9" y2="26.0"/>
<line x1="45.9" y1="77.2" x2="48.1" y2="77.2"/>
<line x1="257.5" y1="77.2" x2="261.9" y2="77.2"/>
<line x1="470.7" y1="77.2" x2="472.9" y2="77.2"/>
<line x1="45.9" y1="128.4" x2="48.1" y2="128.4"/>
<line x1="257.5" y1="128.4" x2="261.9" y2="128.4"/>
<line x1="470.7" y1="128.4" x2="472.9" y2="128.4"/>
<line x1="45.9" y1="194.7" x2="50.1" y2="194.7"/>
<line x1="255.5" y1="194.7" x2="263.9" y2="194.7"/>
<line x1="468.7" y1="194.7" x2="472.9" y2="194.7"/>
<line x1="45.9" y1="237.6" x2="50.1" y2="237.6"/>
<line x1="255.5" y1="237.6" x2="263.9" y2="237.6"/>
<line x1="468.7" y1="237.6" x2="472.9" y2="237.6"/>
<line x1="45.9" y1="280.6" x2="50.1" y2="280.6"/>
<line x1="255.5" y1="280.6" x2="263.9" y2="280.6"/>
<line x1="468.7" y1="280.6" x2="472.9" y2="280.6"/>
<line x1="45.9" y1="323.9" x2="50.1" y2="323.9"/>
<line x1="255.5" y1="323.9" x2="263.9" y2="323.9"/>
<line x1="468.7" y1="323.9" x2="472.9" y2="323.9"/>
<line x1="45.9" y1="173.2" x2="48.1" y2="173.2"/>
<line x1="257.5" y1="173.2" x2="261.9" y2="173.2"/>
<line x1="470.7" y1="173.2" x2="472.9" y2="173.2"/>
<line x1="45.9" y1="216.2" x2="48.1" y2="216.2"/>
<line x1="257.5" y1="216.2" x2="261.9" y2="216.2"/>
<line x1="470.7" y1="216.2" x2="472.9" y2="216.2"/>
<line x1="45.9" y1="259.2" x2="48.1" y2="259.2"/>
<line x1="257.5" y1="259.2" x2="261.9" y2="259.2"/>
<line x1="470.7" y1="259.2" x2="472.9" y2="259.2"/>
<line x1="45.9" y1="302.3" x2="48.1" y2="302.3"/>
<line x1="257.5" y1="302.3" x2="261.9" y2="302.3"/>
<line x1="470.7" y1="302.3" x2="472.9" y2="302.3"/>
<line x1="45.9" y1="360.2" x2="50.1" y2="360.2"/>
<line x1="255.5" y1="360.2" x2="263.9" y2="360.2"/>
<line x1="468.7" y1="360.2" x2="472.9" y2="360.2"/>
<line x1="45.9" y1="403.1" x2="50.1" y2="403.1"/>
<line x1="255.5" y1="403.1" x2="263.9" y2="403.1"/>
<line x1="468.7" y1="403.1" x2="472.9" y2="403.1"/>
<line x1="45.9" y1="446.4" x2="50.1" y2="446.4"/>
<line x1="255.5" y1="446.4" x2="263.9" y2="446.4"/>
<line x1="468.7" y1="446.4" x2="472.9" y2="446.4"/>
<line x1="45.9" y1="489.3" x2="50.1" y2="489.3"/>
<line x1="255.5" y1="489.3" x2="263.9" y2="489.3"/>
<line x1="468.7" y1="489.3" x2="472.9" y2="489.3"/>
<line x1="45.9" y1="338.7" x2="48.1" y2="338.7"/>
<line x1="257.5" y1="338.7" x2="261.9" y2="338.7"/>
<line x1="470.7" y1="338.7" x2="472.9" y2="338.7"/>
<line x1="45.9" y1="381.7" x2="48.1" y2="381.7"/>
<line x1="257.5" y1="381.7" x2="261.9" y2="381.7"/>
<line x1="470.7" y1="381.7" x2="472.9" y2="381.7"/>
<line x1="45.9" y1="424.7" x2="48.1" y2="424.7"/>
<line x1="257.5" y1="424.7" x2="261.9" y2="424.7"/>
<line x1="470.7" y1="424.7" x2="472.9" y2="424.7"/>
<line x1="45.9" y1="467.8" x2="48.1" y2="467.8"/>
<line x1="257.5" y1="467.8" x2="261.9" y2="467.8"/>
<line x1="470.7" y1="467.8" x2="472.9" y2="467.8"/>
<line x1="60.1" y1="0.7" x2="60.1" y2="2.4"/>
<line x1="60.1" y1="163.1" x2="60.1" y2="166.5"/>
<line x1="60.1" y1="326.7" x2="60.1" y2="330.1"/>
<line x1="60.1" y1="490.4" x2="60.1" y2="492.1"/>
<line x1="74.4" y1="0.7" x2="74.4" y2="3.8"/>
<line x1="74.4" y1="161.7" x2="74.4" y2="167.9"/>
<line x1="74.4" y1="325.3" x2="74.4" y2="331.5"/>
<line x1="74.4" y1="489.0" x2="74.4" y2="492.1"/>
<line x1="88.6" y1="0.7" x2="88.6" y2="2.4"/>
<line x1="88.6" y1="163.1" x2="88.6" y2="166.5"/>
<line x1="88.6" y1="326.7" x2="88.6" y2="330.1"/>
<line x1="88.6" y1="490.4" x2="88.6" y2="492.1"/>
<line x1="102.8" y1="0.7" x2="102.8" y2="2.4"/>
<line x1="102.8" y1="163.1" x2="102.8" y2="166.5"/>
<line x1="102.8" y1="326.7" x2="102.8" y2="330.1"/>
<line x1="102.8" y1="490.4" x2="102.8" y2="492.1"/>
<line x1="117.1" y1="0.7" x2="117.1" y2="2.4"/>
<line x1="117.1" y1="163.1" x2="117.1" y2="166.5"/>
<line x1="117.1" y1="326.7" x2="117.1" y2="330.1"/>
<line x1="117.1" y1="490.4" x2="117.1" y2="492.1"/>
<line x1="131.3" y1="0.7" x2="131.3" y2="3.8"/>
<line x1="131.3" y1="161.7" x2="131.3" y2="167.9"/>
<line x1="131.3" y1="325.3" x2="131.3" y2="331.5"/>
<line x1="131.3" y1="489.0" x2="131.3" y2="492.1"/>
<line x1="145.6" y1="0.7" x2="145.6" y2="2.4"/>
<line x1="145.6" y1="163.1" x2="145.6" y2="166.5"/>
<line x1="145.6" y1="326.7" x2="145.6" y2="330.1"/>
<line x1="145.6" y1="490.4" x2="145.6" y2="492.1"/>
<line x1="159.8" y1="0.7" x2="159.8" y2="2.4"/>
<line x1="159.8" y1="163.1" x2="159.8" y2="166.5"/>
<line x1="159.8" y1="326.7" x2="159.8" y2="330.1"/>
<line x1="159.8" y1="490.4" x2="159.8" y2="492.1"/>
<line x1="174.0" y1="0.7" x2="174.0" y2="2.4"/>
<line x1="174.0" y1="163.1" x2="174.0" y2="166.5"/>
<line x1="174.0" y1="326.7" x2="174.0" y2="330.1"/>
<line x1="174.0" y1="490.4" x2="174.0" y2="492.1"/>
<line x1="188.3" y1="0.7" x2="188.3" y2="3.8"/>
<line x1="188.3" y1="161.7" x2="188.3" y2="167.9"/>
<line x1="188.3" y1="325.3" x2="188.3" y2="331.5"/>
<line x1="188.3" y1="489.0" x2="188.3" y2="492.1"/>
<line x1="202.5" y1="0.7" x2="202.5" y2="2.4"/>
<line x1="202.5" y1="163.1" x2="202.5" y2="166.5"/>
<line x1="202.5" y1="326.7" x2="202.5" y2="330.1"/>
<line x1="202.5" y1="490.4" x2="202.5" y2="492.1"/>
<line x1="216.7" y1="0.7" x2="216.7" y2="2.4"/>
<line x1="216.7" y1="163.1" x2="216.7" y2="166.5"/>
<line x1="216.7" y1="326.7" x2="216.7" y2="330.1"/>
<line x1="216.7" y1="490.4" x2="216.7" y2="492.1"/>
<line x1="231.0" y1="0.7" x2="231.0" y2="2.4"/>
<line x1="231.0" y1="163.1" x2="231.0" y2="166.5"/>
<line x1="231.0" y1="326.7" x2="231.0" y2="330.1"/>
<line x1="231.0" y1="490.4" x2="231.0" y2="492.1"/>
<line x1="245.2" y1="0.7" x2="245.2" y2="3.8"/>
<line x1="245.2" y1="161.7" x2="245.2" y2="167.9"/>
<line x1="245.2" y1="325.3" x2="245.2" y2="331.5"/>
<line x1="245.2" y1="489.0" x2="245.2" y2="492.1"/>
<line x1="273.8" y1="0.7" x2="273.8" y2="2.4"/>
<line x1="273.8" y1="163.1" x2="273.8" y2="166.5"/>
<line x1="273.8" y1="326.7" x2="273.8" y2="330.1"/>
<line x1="273.8" y1="490.4" x2="273.8" y2="492.1"/>
<line x1="288.1" y1="0.7" x2="288.1" y2="3.8"/>
<line x1="288.1" y1="161.7" x2="288.1" y2="167.9"/>
<line x1="288.1" y1="325.3" x2="288.1" y2="331.5"/>
<line x1="288.1" y1="489.0" x2="288.1" y2="492.1"/>
<line x1="302.3" y1="0.7" x2="302.3" y2="2.4"/>
<line x1="302.3" y1="163.1" x2="302.3" y2="166.5"/>
<line x1="302.3" y1="326.7" x2="302.3" y2="330.1"/>
<line x1="302.3" y1="490.4" x2="302.3" y2="492.1"/>
<line x1="316.5" y1="0.7" x2="316.5" y2="2.4"/>
<line x1="316.5" y1="163.1" x2="316.5" y2="166.5"/>
<line x1="316.5" y1="326.7" x2="316.5" y2="330.1"/>
<line x1="316.5" y1="490.4" x2="316.5" y2="492.1"/>
<line x1="330.8" y1="0.7" x2="330.8" y2="2.4"/>
<line x1="330.8" y1="163.1" x2="330.8" y2="166.5"/>
<line x1="330.8" y1="326.7" x2="330.8" y2="330.1"/>
<line x1="330.8" y1="490.4" x2="330.8" y2="492.1"/>
<line x1="345.0" y1="0.7" x2="345.0" y2="3.8"/>
<line x1="345.0" y1="161.7" x2="345.0" y2="167.9"/>
<line x1="345.0" y1="325.3" x2="345.0" y2="331.5"/>
<line x1="345.0" y1="489.0" x2="345.0" y2="492.1"/>
<line x1="359.3" y1="0.7" x2="359.3" y2="2.4"/>
<line x1="359.3" y1="163.1" x2="359.3" y2="166.5"/>
<line x1="359.3" y1="326.7" x2="359.3" y2="330.1"/>
<line x1="359.3" y1="490.4" x2="359.3" y2="492.1"/>
<line x1="373.5" y1="0.7" x2="373.5" y2="2.4"/>
<line x1="373.5" y1="163.1" x2="373.5" y2="166.5"/>
<line x1="373.5" y1="326.7" x2="373.5" y2="330.1"/>
<line x1="373.5" y1="490.4" x2="373.5" y2="492.1"/>
<line x1="387.7" y1="0.7" x2="387.7" y2="2.4"/>
<line x1="387.7" y1="163.1" x2="387.7" y2="166.5"/>
<line x1="387.7" y1="326.7" x2="387.7" y2="330.1"/>
<line x1="387.7" y1="490.4" x2="387.7" y2="492.1"/>
<line x1="402.0" y1="0.7" x2="402.0" y2="3.8"/>
<line x1="402.0" y1="161.7" x2="402.0" y2="167.9"/>
<line x1="402.0" y1="325.3" x2="402.0" y2="331.5"/>
<line x1="402.0" y1="489.0" x2="402.0" y2="492.1"/>
<line x1="416.2" y1="0.7" x2="416.2" y2="2.4"/>
<line x1="416.2" y1="163.1" x2="416.2" y2="166.5"/>
<line x1="416.2" y1="326.7" x2="416.2" y2="330.1"/>
<line x1="416.2" y1="490.4" x2="416.2" y2="492.1"/>
<line x1="430.4" y1="0.7" x2="430.4" y2="2.4"/>
<line x1="430.4" y1="163.1" x2="430.4" y2="166.5"/>
<line x1="430.4" y1="326.7" x2="430.4" y2="330.1"/>
<line x1="430.4" y1="490.4" x2="430.4" y2="492.1"/>
<line x1="444.7" y1="0.7" x2="444.7" y2="2.4"/>
<line x1="444.7" y1="163.1" x2="444.7" y2="166.5"/>
<line x1="444.7" y1="326.7" x2="444.7" y2="330.1"/>
<line x1="444.7" y1="490.4" x2="444.7" y2="492.1"/>
<line x1="458.9" y1="0.7" x2="458.9" y2="3.8"/>
<line x1="458.9" y1="161.7" x2="458.9" y2="167.9"/>
<line x1="458.9" y1="325.3" x2="458.9" y2="331.5"/>
<line x1="458.9" y1="489.0" x2="458.9" y2="492.1"/>
</g>
<rect x="52.4" y="19.4" width="3.7" height="3.7" fill="none" stroke="#ff0000" stroke-width="1.8"/>
<circle cx="54.2" cy="36.7" r="2.0" fill="none" stroke="#29abe2" stroke-width="1.5"/>
<rect x="52.4" y="180.1" width="3.7" height="3.7" fill="none" stroke="#ff0000" stroke-width="1.8"/>
<circle cx="54.2" cy="194.9" r="2.0" fill="none" stroke="#29abe2" stroke-width="1.5"/>
<rect x="52.4" y="343.9" width="3.7" height="3.7" fill="none" stroke="#ff0000" stroke-width="1.8"/>
<circle cx="54.2" cy="358.7" r="2.0" fill="none" stroke="#29abe2" stroke-width="1.5"/>
<g style="filter:grayscale(1)">
<text x="20.3" y="55.5" font-size="10.5" text-anchor="start" fill="#262626" textLength="21.6" lengthAdjust="spacingAndGlyphs">13.0</text>
<text x="20.3" y="106.7" font-size="10.5" text-anchor="start" fill="#262626" textLength="21.6" lengthAdjust="spacingAndGlyphs">13.5</text>
<text x="20.3" y="157.9" font-size="10.5" text-anchor="start" fill="#262626" textLength="21.6" lengthAdjust="spacingAndGlyphs">14.0</text>
<text x="20.3" y="198.6" font-size="10.5" text-anchor="start" fill="#262626" textLength="21.6" lengthAdjust="spacingAndGlyphs">12.5</text>
<text x="20.3" y="241.5" font-size="10.5" text-anchor="start" fill="#262626" textLength="21.6" lengthAdjust="spacingAndGlyphs">13.0</text>
<text x="20.3" y="284.5" font-size="10.5" text-anchor="start" fill="#262626" textLength="21.6" lengthAdjust="spacingAndGlyphs">13.5</text>
<text x="20.3" y="327.79999999999995" font-size="10.5" text-anchor="start" fill="#262626" textLength="21.6" lengthAdjust="spacingAndGlyphs">14.0</text>
<text x="20.3" y="364.09999999999997" font-size="10.5" text-anchor="start" fill="#262626" textLength="21.6" lengthAdjust="spacingAndGlyphs">12.5</text>
<text x="20.3" y="407.0" font-size="10.5" text-anchor="start" fill="#262626" textLength="21.6" lengthAdjust="spacingAndGlyphs">13.0</text>
<text x="20.3" y="450.29999999999995" font-size="10.5" text-anchor="start" fill="#262626" textLength="21.6" lengthAdjust="spacingAndGlyphs">13.5</text>
<text x="20.3" y="493.2" font-size="10.5" text-anchor="start" fill="#262626" textLength="21.6" lengthAdjust="spacingAndGlyphs">14.0</text>
<text x="62.08" y="508" font-size="10.5" text-anchor="start" fill="#262626" textLength="24.3" lengthAdjust="spacingAndGlyphs">−0.6</text>
<text x="119.02" y="508" font-size="10.5" text-anchor="start" fill="#262626" textLength="24.3" lengthAdjust="spacingAndGlyphs">−0.4</text>
<text x="175.95999999999998" y="508" font-size="10.5" text-anchor="start" fill="#262626" textLength="24.3" lengthAdjust="spacingAndGlyphs">−0.2</text>
<text x="236.89999999999998" y="508" font-size="10.5" text-anchor="start" fill="#262626" textLength="16.2" lengthAdjust="spacingAndGlyphs">0.0</text>
<text x="275.78" y="508" font-size="10.5" text-anchor="start" fill="#262626" textLength="24.3" lengthAdjust="spacingAndGlyphs">−0.6</text>
<text x="332.71999999999997" y="508" font-size="10.5" text-anchor="start" fill="#262626" textLength="24.3" lengthAdjust="spacingAndGlyphs">−0.4</text>
<text x="389.65999999999997" y="508" font-size="10.5" text-anchor="start" fill="#262626" textLength="24.3" lengthAdjust="spacingAndGlyphs">−0.2</text>
<text x="450.59999999999997" y="508" font-size="10.5" text-anchor="start" fill="#262626" textLength="16.2" lengthAdjust="spacingAndGlyphs">0.0</text>
<text x="116.9" y="521" font-size="10.5" text-anchor="start" fill="#262626" textLength="70" lengthAdjust="spacingAndGlyphs">LOG P [days]</text>
<text x="329.4" y="521" font-size="10.5" fill="#262626" textLength="72.8" lengthAdjust="spacingAndGlyphs">LOG P<tspan font-size="7" dy="1.5">F</tspan><tspan dy="-1.5"> [days]</tspan></text>
<text transform="translate(9.8,83.5) rotate(-90)" font-size="10.5" text-anchor="middle" fill="#262626" textLength="43" lengthAdjust="spacingAndGlyphs">J [mag]</text>
<text transform="translate(9.8,247) rotate(-90)" font-size="10.5" text-anchor="middle" fill="#262626" textLength="43.5" lengthAdjust="spacingAndGlyphs">H [mag]</text>
<text transform="translate(9.8,412.4) rotate(-90)" font-size="10.5" text-anchor="middle" fill="#262626" textLength="50" lengthAdjust="spacingAndGlyphs">K<tspan font-size="7" dy="1.5">s</tspan><tspan dy="-1.5"> [mag]</tspan></text>
<text x="65.1" y="24.9" font-size="12.6" text-anchor="start" fill="#262626" textLength="31.2" lengthAdjust="spacingAndGlyphs">RRab</text>
<text x="106.4" y="24.9" font-size="12.6" text-anchor="start" fill="#262626" textLength="26.5" lengthAdjust="spacingAndGlyphs">(82)</text>
<text x="65.1" y="39.8" font-size="12.6" text-anchor="start" fill="#262626" textLength="22.7" lengthAdjust="spacingAndGlyphs">RRc</text>
<text x="97.5" y="39.8" font-size="12.6" text-anchor="start" fill="#262626" textLength="27.0" lengthAdjust="spacingAndGlyphs">(93)</text>
<text x="65.1" y="184.7" font-size="12.6" text-anchor="start" fill="#262626" textLength="26.6" lengthAdjust="spacingAndGlyphs">(81)</text>
<text x="65.1" y="197.4" font-size="12.6" text-anchor="start" fill="#262626" textLength="26.6" lengthAdjust="spacingAndGlyphs">(94)</text>
<text x="65.1" y="348.5" font-size="12.6" text-anchor="start" fill="#262626" textLength="26.6" lengthAdjust="spacingAndGlyphs">(82)</text>
<text x="65.1" y="361.0" font-size="12.6" text-anchor="start" fill="#262626" textLength="26.6" lengthAdjust="spacingAndGlyphs">(95)</text>
<text x="278.2" y="24.9" font-size="12.6" text-anchor="start" fill="#262626" textLength="38.2" lengthAdjust="spacingAndGlyphs">Global</text>
<text x="325.7" y="24.9" font-size="12.6" text-anchor="start" fill="#262626" textLength="35.6" lengthAdjust="spacingAndGlyphs">(168)</text>
<text x="278.2" y="184.3" font-size="12.6" text-anchor="start" fill="#262626" textLength="36.3" lengthAdjust="spacingAndGlyphs">(171)</text>
<text x="278.2" y="348.4" font-size="12.6" text-anchor="start" fill="#262626" textLength="36.3" lengthAdjust="spacingAndGlyphs">(176)</text>
<text x="188.1" y="24.9" font-size="12.6" text-anchor="start" fill="#262626" textLength="48.5" lengthAdjust="spacingAndGlyphs">σ=0.05</text>
<text x="188.1" y="40.0" font-size="12.6" text-anchor="start" fill="#262626" textLength="48.5" lengthAdjust="spacingAndGlyphs">σ=0.04</text>
<text x="188.1" y="184.4" font-size="12.6" text-anchor="start" fill="#262626" textLength="48.5" lengthAdjust="spacingAndGlyphs">σ=0.05</text>
<text x="188.1" y="197.3" font-size="12.6" text-anchor="start" fill="#262626" textLength="48.5" lengthAdjust="spacingAndGlyphs">σ=0.04</text>
<text x="188.1" y="348.4" font-size="12.6" text-anchor="start" fill="#262626" textLength="48.5" lengthAdjust="spacingAndGlyphs">σ=0.05</text>
<text x="188.1" y="361.0" font-size="12.6" text-anchor="start" fill="#262626" textLength="48.5" lengthAdjust="spacingAndGlyphs">σ=0.04</text>
<text x="401.5" y="24.9" font-size="12.6" text-anchor="start" fill="#262626" textLength="48.3" lengthAdjust="spacingAndGlyphs">σ=0.04</text>
<text x="401.5" y="184.3" font-size="12.6" text-anchor="start" fill="#262626" textLength="48.3" lengthAdjust="spacingAndGlyphs">σ=0.04</text>
<text x="401.5" y="348.4" font-size="12.6" text-anchor="start" fill="#262626" textLength="48.3" lengthAdjust="spacingAndGlyphs">σ=0.05</text>
</g>
</svg>
</body></html>
